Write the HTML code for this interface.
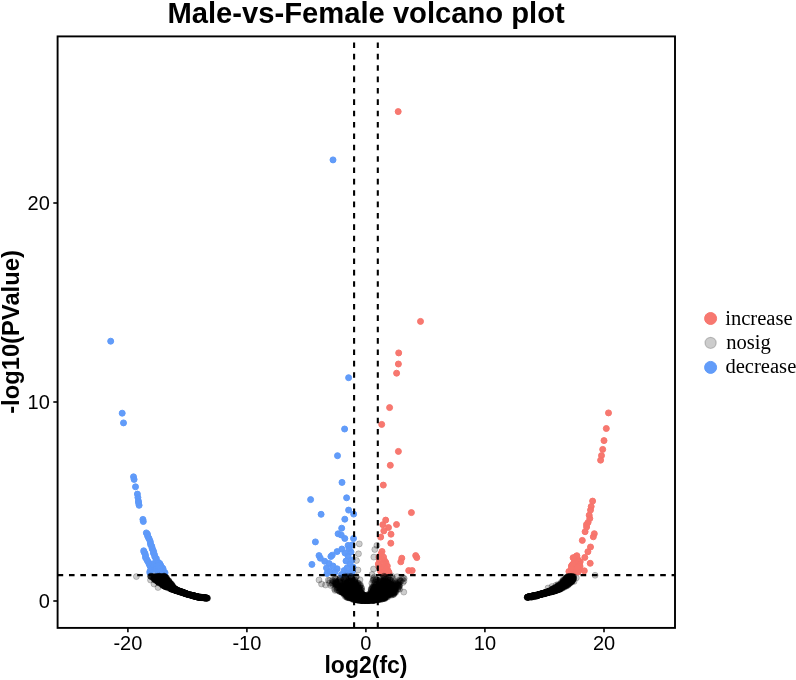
<!DOCTYPE html>
<html><head><meta charset="utf-8"><style>
html,body{margin:0;padding:0;background:#fff;}
svg{display:block;will-change:transform;}
.tk{font-family:"Liberation Sans",sans-serif;font-size:20px;fill:#000;}
.lg{font-family:"Liberation Serif",serif;font-size:20px;fill:#000;}
.ti{font-family:"Liberation Sans",sans-serif;font-weight:bold;font-size:29.2px;fill:#000;}
.ax{font-family:"Liberation Sans",sans-serif;font-weight:bold;font-size:23px;fill:#000;}
circle.n,circle.r,circle.b{r:3.0px;stroke-width:1.0px;}
circle.n{fill:#000;stroke:#000;fill-opacity:0.2;stroke-opacity:0.2;}
circle.r{fill:#F7746B;stroke:#F7746B;fill-opacity:0.97;stroke-opacity:0.97;}
circle.b{fill:#5D99F9;stroke:#5D99F9;fill-opacity:0.97;stroke-opacity:0.97;}
line.d{stroke:#000;stroke-width:2.1px;stroke-dasharray:5.6 5.77;}
line.t{stroke:#000;stroke-width:1.6px;}
</style></head><body>
<svg width="796" height="680" viewBox="0 0 796 680">
<rect width="796" height="680" fill="#fff"/>
<text x="366.1" y="22.7" text-anchor="middle" class="ti">Male-vs-Female volcano plot</text>
<g><circle class=r cx=398.2 cy=111.6 r=3 /><circle class=r cx=420.5 cy=321.4 r=3 /><circle class=r cx=398.7 cy=352.9 r=3 /><circle class=r cx=398.4 cy=364.0 r=3 /><circle class=r cx=396.6 cy=373.2 r=3 /><circle class=r cx=389.6 cy=407.6 r=3 /><circle class=r cx=381.7 cy=424.4 r=3 /><circle class=r cx=398.4 cy=451.4 r=3 /><circle class=r cx=390.3 cy=465.3 r=3 /><circle class=r cx=383.3 cy=485.1 r=3 /><circle class=r cx=411.4 cy=512.6 r=3 /><circle class=r cx=385.7 cy=520.1 r=3 /><circle class=r cx=396.5 cy=524.5 r=3 /><circle class=r cx=382.8 cy=524.7 r=3 /><circle class=r cx=388.5 cy=527.6 r=3 /><circle class=r cx=383.8 cy=530.9 r=3 /><circle class=r cx=391.0 cy=534.2 r=3 /><circle class=r cx=380.7 cy=537.1 r=3 /><circle class=r cx=390.8 cy=543.2 r=3 /><circle class=r cx=382.0 cy=551.5 r=3 /><circle class=r cx=415.7 cy=555.6 r=3 /><circle class=r cx=416.8 cy=557.6 r=3 /><circle class=r cx=401.8 cy=558.2 r=3 /><circle class=r cx=400.8 cy=561.8 r=3 /><circle class=r cx=383.5 cy=557.1 r=3 /><circle class=r cx=379.0 cy=557.1 r=3 /><circle class=r cx=384.5 cy=560.6 r=3 /><circle class=r cx=385.9 cy=562.6 r=3 /><circle class=r cx=378.3 cy=564.0 r=3 /><circle class=r cx=387.3 cy=566.1 r=3 /><circle class=r cx=382.4 cy=567.5 r=3 /><circle class=r cx=388.0 cy=570.6 r=3 /><circle class=r cx=380.4 cy=570.9 r=3 /><circle class=r cx=408.7 cy=570.6 r=3 /><circle class=r cx=412.2 cy=570.6 r=3 /><circle class=r cx=381.0 cy=554.0 r=3 /><circle class=r cx=379.5 cy=560.0 r=3 /><circle class=r cx=383.0 cy=564.0 r=3 /><circle class=r cx=386.0 cy=568.5 r=3 /><circle class=r cx=384.0 cy=571.5 r=3 /><circle class=r cx=379.0 cy=567.0 r=3 /><circle class=r cx=381.5 cy=573.0 r=3 /><circle class=r cx=386.5 cy=573.2 r=3 /><circle class=r cx=389.0 cy=572.5 r=3 /><circle class=r cx=608.5 cy=412.9 r=3 /><circle class=r cx=606.3 cy=428.5 r=3 /><circle class=r cx=604.0 cy=440.6 r=3 /><circle class=r cx=602.7 cy=449.4 r=3 /><circle class=r cx=601.5 cy=455.6 r=3 /><circle class=r cx=600.6 cy=460.2 r=3 /><circle class=r cx=592.6 cy=501.1 r=3 /><circle class=r cx=591.2 cy=506.5 r=3 /><circle class=r cx=590.5 cy=510.1 r=3 /><circle class=r cx=589.2 cy=515.2 r=3 /><circle class=r cx=588.1 cy=522.4 r=3 /><circle class=r cx=586.6 cy=527.0 r=3 /><circle class=r cx=585.1 cy=531.7 r=3 /><circle class=r cx=594.3 cy=533.7 r=3 /><circle class=r cx=593.3 cy=536.8 r=3 /><circle class=r cx=582.3 cy=540.4 r=3 /><circle class=r cx=590.5 cy=547.0 r=3 /><circle class=r cx=587.9 cy=551.7 r=3 /><circle class=r cx=584.8 cy=557.4 r=3 /><circle class=r cx=590.2 cy=563.3 r=3 /><circle class=r cx=584.3 cy=570.8 r=3 /><circle class=r cx=586.5 cy=524.5 r=3 /><circle class=r cx=589.8 cy=518.5 r=3 /><circle class=r cx=578.1 cy=560.5 r=3 /><circle class=r cx=578.2 cy=561.0 r=3 /><circle class=r cx=573.5 cy=572.3 r=3 /><circle class=r cx=571.1 cy=569.8 r=3 /><circle class=r cx=573.4 cy=564.0 r=3 /><circle class=r cx=571.4 cy=566.1 r=3 /><circle class=r cx=577.4 cy=558.8 r=3 /><circle class=r cx=577.8 cy=561.1 r=3 /><circle class=r cx=576.5 cy=567.5 r=3 /><circle class=r cx=575.8 cy=559.2 r=3 /><circle class=r cx=572.2 cy=565.0 r=3 /><circle class=r cx=578.1 cy=572.0 r=3 /><circle class=r cx=578.3 cy=560.8 r=3 /><circle class=r cx=580.2 cy=561.7 r=3 /><circle class=r cx=568.9 cy=571.5 r=3 /><circle class=r cx=579.1 cy=568.9 r=3 /><circle class=r cx=576.6 cy=569.7 r=3 /><circle class=r cx=574.5 cy=565.3 r=3 /><circle class=r cx=574.6 cy=562.6 r=3 /><circle class=r cx=577.7 cy=562.3 r=3 /><circle class=r cx=576.0 cy=564.0 r=3 /><circle class=r cx=576.2 cy=556.4 r=3 /><circle class=r cx=574.0 cy=558.1 r=3 /><circle class=r cx=579.6 cy=564.8 r=3 /><circle class=r cx=574.3 cy=562.1 r=3 /><circle class=r cx=572.9 cy=564.2 r=3 /><circle class=r cx=580.0 cy=566.2 r=3 /><circle class=r cx=574.6 cy=571.5 r=3 /><circle class=r cx=573.7 cy=568.9 r=3 /><circle class=r cx=576.9 cy=555.7 r=3 /><circle class=r cx=578.6 cy=570.2 r=3 /><circle class=r cx=577.3 cy=567.5 r=3 /><circle class=r cx=573.1 cy=557.7 r=3 /><circle class=r cx=571.5 cy=568.4 r=3 /><circle class=b cx=333.0 cy=159.9 r=3 /><circle class=b cx=110.7 cy=341.2 r=3 /><circle class=b cx=122.2 cy=413.2 r=3 /><circle class=b cx=123.5 cy=422.9 r=3 /><circle class=b cx=348.6 cy=377.7 r=3 /><circle class=b cx=344.6 cy=429.0 r=3 /><circle class=b cx=337.5 cy=455.7 r=3 /><circle class=b cx=342.0 cy=482.4 r=3 /><circle class=b cx=346.6 cy=497.8 r=3 /><circle class=b cx=310.6 cy=499.6 r=3 /><circle class=b cx=348.6 cy=510.1 r=3 /><circle class=b cx=353.7 cy=514.1 r=3 /><circle class=b cx=321.1 cy=514.3 r=3 /><circle class=b cx=344.8 cy=519.2 r=3 /><circle class=b cx=341.7 cy=528.2 r=3 /><circle class=b cx=338.1 cy=533.8 r=3 /><circle class=b cx=341.2 cy=534.9 r=3 /><circle class=b cx=344.8 cy=538.5 r=3 /><circle class=b cx=353.5 cy=538.5 r=3 /><circle class=b cx=315.4 cy=541.9 r=3 /><circle class=b cx=348.1 cy=545.4 r=3 /><circle class=b cx=341.9 cy=549.0 r=3 /><circle class=b cx=337.1 cy=551.6 r=3 /><circle class=b cx=332.2 cy=555.2 r=3 /><circle class=b cx=330.9 cy=556.5 r=3 /><circle class=b cx=319.0 cy=555.6 r=3 /><circle class=b cx=320.3 cy=558.2 r=3 /><circle class=b cx=324.7 cy=561.3 r=3 /><circle class=b cx=311.9 cy=564.4 r=3 /><circle class=b cx=329.1 cy=563.5 r=3 /><circle class=b cx=326.5 cy=568.0 r=3 /><circle class=b cx=330.0 cy=571.5 r=3 /><circle class=b cx=337.1 cy=568.8 r=3 /><circle class=b cx=344.1 cy=570.6 r=3 /><circle class=b cx=351.2 cy=573.2 r=3 /><circle class=b cx=341.5 cy=574.5 r=3 /><circle class=b cx=345.0 cy=553.0 r=3 /><circle class=b cx=348.0 cy=556.0 r=3 /><circle class=b cx=351.0 cy=552.0 r=3 /><circle class=b cx=346.0 cy=561.0 r=3 /><circle class=b cx=350.0 cy=564.0 r=3 /><circle class=b cx=352.0 cy=560.0 r=3 /><circle class=b cx=353.0 cy=567.0 r=3 /><circle class=b cx=347.0 cy=568.0 r=3 /><circle class=b cx=335.0 cy=572.0 r=3 /><circle class=b cx=327.0 cy=573.5 r=3 /><circle class=b cx=333.0 cy=566.0 r=3 /><circle class=b cx=349.0 cy=548.5 r=3 /><circle class=b cx=352.0 cy=545.0 r=3 /><circle class=b cx=347.0 cy=573.5 r=3 /><circle class=b cx=352.5 cy=571.0 r=3 /><circle class=b cx=133.5 cy=476.8 r=3 /><circle class=b cx=134.1 cy=479.4 r=3 /><circle class=b cx=135.5 cy=486.8 r=3 /><circle class=b cx=137.4 cy=494.1 r=3 /><circle class=b cx=137.9 cy=497.5 r=3 /><circle class=b cx=138.4 cy=501.0 r=3 /><circle class=b cx=139.1 cy=505.3 r=3 /><circle class=b cx=138.6 cy=503.0 r=3 /><circle class=b cx=142.9 cy=519.4 r=3 /><circle class=b cx=143.3 cy=521.5 r=3 /><circle class=b cx=146.3 cy=532.9 r=3 /><circle class=b cx=147.4 cy=534.0 r=3 /><circle class=b cx=147.5 cy=535.7 r=3 /><circle class=b cx=148.4 cy=537.6 r=3 /><circle class=b cx=149.1 cy=538.7 r=3 /><circle class=b cx=150.1 cy=541.1 r=3 /><circle class=b cx=150.4 cy=542.8 r=3 /><circle class=b cx=150.7 cy=544.8 r=3 /><circle class=b cx=151.8 cy=546.3 r=3 /><circle class=b cx=152.1 cy=548.4 r=3 /><circle class=b cx=152.5 cy=549.3 r=3 /><circle class=b cx=153.6 cy=551.4 r=3 /><circle class=b cx=153.4 cy=553.1 r=3 /><circle class=b cx=154.5 cy=554.7 r=3 /><circle class=b cx=154.8 cy=556.9 r=3 /><circle class=b cx=156.3 cy=558.5 r=3 /><circle class=b cx=158.6 cy=562.6 r=3 /><circle class=b cx=159.9 cy=563.7 r=3 /><circle class=b cx=160.6 cy=565.5 r=3 /><circle class=b cx=161.0 cy=566.2 r=3 /><circle class=b cx=162.0 cy=567.8 r=3 /><circle class=b cx=163.0 cy=568.6 r=3 /><circle class=b cx=163.1 cy=570.1 r=3 /><circle class=b cx=163.5 cy=571.7 r=3 /><circle class=b cx=165.0 cy=572.7 r=3 /><circle class=b cx=143.7 cy=550.8 r=3 /><circle class=b cx=144.1 cy=552.3 r=3 /><circle class=b cx=145.0 cy=553.5 r=3 /><circle class=b cx=145.6 cy=555.8 r=3 /><circle class=b cx=145.5 cy=557.5 r=3 /><circle class=b cx=146.7 cy=559.3 r=3 /><circle class=b cx=147.4 cy=560.7 r=3 /><circle class=b cx=148.4 cy=562.2 r=3 /><circle class=b cx=149.2 cy=564.1 r=3 /><circle class=b cx=149.9 cy=565.7 r=3 /><circle class=b cx=150.9 cy=567.8 r=3 /><circle class=b cx=151.1 cy=569.5 r=3 /><circle class=b cx=151.6 cy=569.9 r=3 /><circle class=b cx=149.9 cy=571.4 r=3 /><circle class=b cx=149.9 cy=572.9 r=3 /><circle class=b cx=153.2 cy=563.8 r=3 /><circle class=b cx=154.1 cy=565.6 r=3 /><circle class=b cx=156.0 cy=566.9 r=3 /><circle class=b cx=156.4 cy=569.0 r=3 /><circle class=b cx=157.6 cy=572.0 r=3 /><circle class=b cx=159.2 cy=572.9 r=3 /><circle class=b cx=156.3 cy=560.7 r=3 /><circle class=b cx=158.0 cy=563.2 r=3 /><circle class=b cx=158.0 cy=565.8 r=3 /><circle class=b cx=159.2 cy=568.2 r=3 /><circle class=b cx=159.8 cy=571.0 r=3 /><circle class=b cx=161.1 cy=573.5 r=3 /><circle class=n cx=167.6 cy=584.2 r=3 /><circle class=n cx=160.8 cy=581.9 r=3 /><circle class=n cx=165.3 cy=580.9 r=3 /><circle class=n cx=166.2 cy=583.9 r=3 /><circle class=n cx=157.3 cy=577.9 r=3 /><circle class=n cx=161.8 cy=583.4 r=3 /><circle class=n cx=154.5 cy=577.5 r=3 /><circle class=n cx=165.6 cy=579.5 r=3 /><circle class=n cx=167.1 cy=582.4 r=3 /><circle class=n cx=177.4 cy=590.7 r=3 /><circle class=n cx=157.4 cy=581.1 r=3 /><circle class=n cx=164.0 cy=581.9 r=3 /><circle class=n cx=159.5 cy=579.4 r=3 /><circle class=n cx=160.6 cy=579.5 r=3 /><circle class=n cx=178.2 cy=591.5 r=3 /><circle class=n cx=154.4 cy=578.7 r=3 /><circle class=n cx=165.7 cy=585.0 r=3 /><circle class=n cx=169.6 cy=583.1 r=3 /><circle class=n cx=161.2 cy=580.9 r=3 /><circle class=n cx=164.1 cy=577.7 r=3 /><circle class=n cx=154.7 cy=576.7 r=3 /><circle class=n cx=151.3 cy=576.2 r=3 /><circle class=n cx=162.2 cy=581.3 r=3 /><circle class=n cx=176.2 cy=589.7 r=3 /><circle class=n cx=167.7 cy=586.6 r=3 /><circle class=n cx=166.3 cy=584.7 r=3 /><circle class=n cx=163.1 cy=584.3 r=3 /><circle class=n cx=155.3 cy=579.1 r=3 /><circle class=n cx=172.0 cy=584.8 r=3 /><circle class=n cx=158.8 cy=581.9 r=3 /><circle class=n cx=166.7 cy=584.6 r=3 /><circle class=n cx=179.9 cy=591.2 r=3 /><circle class=n cx=169.3 cy=583.2 r=3 /><circle class=n cx=155.6 cy=579.3 r=3 /><circle class=n cx=162.4 cy=581.0 r=3 /><circle class=n cx=159.2 cy=580.6 r=3 /><circle class=n cx=162.5 cy=581.8 r=3 /><circle class=n cx=162.9 cy=581.3 r=3 /><circle class=n cx=172.6 cy=588.5 r=3 /><circle class=n cx=171.7 cy=586.8 r=3 /><circle class=n cx=155.5 cy=578.1 r=3 /><circle class=n cx=155.4 cy=579.5 r=3 /><circle class=n cx=165.2 cy=585.8 r=3 /><circle class=n cx=168.9 cy=586.6 r=3 /><circle class=n cx=176.0 cy=590.5 r=3 /><circle class=n cx=166.2 cy=579.7 r=3 /><circle class=n cx=161.3 cy=578.1 r=3 /><circle class=n cx=158.3 cy=582.2 r=3 /><circle class=n cx=155.1 cy=579.0 r=3 /><circle class=n cx=165.4 cy=586.0 r=3 /><circle class=n cx=168.5 cy=586.4 r=3 /><circle class=n cx=155.8 cy=578.7 r=3 /><circle class=n cx=167.9 cy=584.6 r=3 /><circle class=n cx=162.9 cy=581.4 r=3 /><circle class=n cx=171.1 cy=585.4 r=3 /><circle class=n cx=161.4 cy=582.2 r=3 /><circle class=n cx=165.2 cy=580.5 r=3 /><circle class=n cx=167.8 cy=584.7 r=3 /><circle class=n cx=169.6 cy=587.5 r=3 /><circle class=n cx=167.6 cy=586.1 r=3 /><circle class=n cx=165.8 cy=580.9 r=3 /><circle class=n cx=159.8 cy=579.1 r=3 /><circle class=n cx=161.1 cy=581.4 r=3 /><circle class=n cx=168.8 cy=581.0 r=3 /><circle class=n cx=176.5 cy=590.1 r=3 /><circle class=n cx=164.2 cy=578.6 r=3 /><circle class=n cx=169.6 cy=585.4 r=3 /><circle class=n cx=160.8 cy=576.6 r=3 /><circle class=n cx=166.4 cy=578.1 r=3 /><circle class=n cx=174.6 cy=589.1 r=3 /><circle class=n cx=159.5 cy=580.2 r=3 /><circle class=n cx=163.4 cy=576.4 r=3 /><circle class=n cx=160.9 cy=582.2 r=3 /><circle class=n cx=166.3 cy=579.4 r=3 /><circle class=n cx=155.0 cy=576.2 r=3 /><circle class=n cx=169.9 cy=586.9 r=3 /><circle class=n cx=167.9 cy=585.8 r=3 /><circle class=n cx=162.1 cy=583.6 r=3 /><circle class=n cx=168.7 cy=580.6 r=3 /><circle class=n cx=182.3 cy=592.7 r=3 /><circle class=n cx=172.7 cy=588.3 r=3 /><circle class=n cx=155.8 cy=578.0 r=3 /><circle class=n cx=161.2 cy=577.2 r=3 /><circle class=n cx=154.9 cy=578.0 r=3 /><circle class=n cx=160.2 cy=577.5 r=3 /><circle class=n cx=167.1 cy=584.1 r=3 /><circle class=n cx=167.7 cy=581.5 r=3 /><circle class=n cx=169.7 cy=582.6 r=3 /><circle class=n cx=177.3 cy=591.1 r=3 /><circle class=n cx=168.7 cy=581.5 r=3 /><circle class=n cx=168.7 cy=588.3 r=3 /><circle class=n cx=159.3 cy=580.9 r=3 /><circle class=n cx=166.1 cy=577.2 r=3 /><circle class=n cx=157.9 cy=576.5 r=3 /><circle class=n cx=182.2 cy=592.5 r=3 /><circle class=n cx=154.3 cy=579.5 r=3 /><circle class=n cx=168.2 cy=585.2 r=3 /><circle class=n cx=165.5 cy=578.0 r=3 /><circle class=n cx=155.7 cy=577.4 r=3 /><circle class=n cx=163.8 cy=580.7 r=3 /><circle class=n cx=162.6 cy=583.5 r=3 /><circle class=n cx=157.1 cy=579.2 r=3 /><circle class=n cx=164.6 cy=576.4 r=3 /><circle class=n cx=169.1 cy=587.5 r=3 /><circle class=n cx=165.9 cy=586.9 r=3 /><circle class=n cx=164.2 cy=586.1 r=3 /><circle class=n cx=168.3 cy=582.9 r=3 /><circle class=n cx=171.6 cy=589.3 r=3 /><circle class=n cx=158.0 cy=581.8 r=3 /><circle class=n cx=158.4 cy=578.3 r=3 /><circle class=n cx=160.7 cy=578.2 r=3 /><circle class=n cx=179.5 cy=591.1 r=3 /><circle class=n cx=185.4 cy=593.5 r=3 /><circle class=n cx=167.1 cy=579.8 r=3 /><circle class=n cx=162.3 cy=581.3 r=3 /><circle class=n cx=153.7 cy=578.7 r=3 /><circle class=n cx=153.5 cy=578.5 r=3 /><circle class=n cx=163.7 cy=582.8 r=3 /><circle class=n cx=171.4 cy=584.2 r=3 /><circle class=n cx=166.6 cy=582.3 r=3 /><circle class=n cx=165.7 cy=584.1 r=3 /><circle class=n cx=163.6 cy=585.7 r=3 /><circle class=n cx=159.6 cy=577.9 r=3 /><circle class=n cx=165.8 cy=586.5 r=3 /><circle class=n cx=162.6 cy=582.6 r=3 /><circle class=n cx=161.7 cy=582.4 r=3 /><circle class=n cx=174.7 cy=588.5 r=3 /><circle class=n cx=156.1 cy=576.9 r=3 /><circle class=n cx=170.2 cy=585.0 r=3 /><circle class=n cx=156.5 cy=576.9 r=3 /><circle class=n cx=168.6 cy=586.8 r=3 /><circle class=n cx=172.9 cy=586.2 r=3 /><circle class=n cx=172.7 cy=586.0 r=3 /><circle class=n cx=158.7 cy=578.0 r=3 /><circle class=n cx=173.5 cy=588.2 r=3 /><circle class=n cx=158.0 cy=581.3 r=3 /><circle class=n cx=162.9 cy=585.5 r=3 /><circle class=n cx=154.8 cy=580.0 r=3 /><circle class=n cx=164.1 cy=578.0 r=3 /><circle class=n cx=157.1 cy=578.8 r=3 /><circle class=n cx=158.8 cy=582.8 r=3 /><circle class=n cx=154.2 cy=577.9 r=3 /><circle class=n cx=185.3 cy=593.4 r=3 /><circle class=n cx=165.4 cy=578.3 r=3 /><circle class=n cx=162.4 cy=579.1 r=3 /><circle class=n cx=178.6 cy=591.2 r=3 /><circle class=n cx=155.4 cy=578.1 r=3 /><circle class=n cx=171.2 cy=589.1 r=3 /><circle class=n cx=158.2 cy=578.4 r=3 /><circle class=n cx=179.3 cy=591.9 r=3 /><circle class=n cx=159.2 cy=583.0 r=3 /><circle class=n cx=165.8 cy=586.6 r=3 /><circle class=n cx=166.1 cy=579.2 r=3 /><circle class=n cx=164.9 cy=583.0 r=3 /><circle class=n cx=154.5 cy=577.5 r=3 /><circle class=n cx=165.1 cy=586.4 r=3 /><circle class=n cx=159.9 cy=582.3 r=3 /><circle class=n cx=164.4 cy=576.2 r=3 /><circle class=n cx=152.5 cy=576.8 r=3 /><circle class=n cx=170.9 cy=589.0 r=3 /><circle class=n cx=173.1 cy=588.1 r=3 /><circle class=n cx=162.8 cy=583.9 r=3 /><circle class=n cx=164.2 cy=585.5 r=3 /><circle class=n cx=159.3 cy=580.7 r=3 /><circle class=n cx=177.2 cy=590.0 r=3 /><circle class=n cx=170.7 cy=583.8 r=3 /><circle class=n cx=167.2 cy=586.5 r=3 /><circle class=n cx=168.4 cy=582.2 r=3 /><circle class=n cx=166.2 cy=584.6 r=3 /><circle class=n cx=157.9 cy=578.2 r=3 /><circle class=n cx=155.4 cy=579.4 r=3 /><circle class=n cx=164.7 cy=579.0 r=3 /><circle class=n cx=157.9 cy=581.2 r=3 /><circle class=n cx=165.6 cy=580.5 r=3 /><circle class=n cx=167.2 cy=581.9 r=3 /><circle class=n cx=167.2 cy=587.5 r=3 /><circle class=n cx=165.1 cy=580.3 r=3 /><circle class=n cx=163.4 cy=576.2 r=3 /><circle class=n cx=167.0 cy=580.5 r=3 /><circle class=n cx=165.6 cy=577.7 r=3 /><circle class=n cx=177.0 cy=590.7 r=3 /><circle class=n cx=167.0 cy=585.4 r=3 /><circle class=n cx=168.0 cy=587.4 r=3 /><circle class=n cx=162.4 cy=584.3 r=3 /><circle class=n cx=167.0 cy=585.8 r=3 /><circle class=n cx=161.4 cy=584.0 r=3 /><circle class=n cx=164.9 cy=585.7 r=3 /><circle class=n cx=168.8 cy=586.5 r=3 /><circle class=n cx=168.1 cy=584.3 r=3 /><circle class=n cx=184.9 cy=593.2 r=3 /><circle class=n cx=162.6 cy=585.2 r=3 /><circle class=n cx=162.5 cy=579.1 r=3 /><circle class=n cx=163.8 cy=581.3 r=3 /><circle class=n cx=166.1 cy=585.8 r=3 /><circle class=n cx=171.4 cy=585.7 r=3 /><circle class=n cx=164.5 cy=583.1 r=3 /><circle class=n cx=174.8 cy=588.3 r=3 /><circle class=n cx=170.2 cy=587.1 r=3 /><circle class=n cx=155.8 cy=580.5 r=3 /><circle class=n cx=171.9 cy=587.5 r=3 /><circle class=n cx=170.5 cy=588.4 r=3 /><circle class=n cx=151.3 cy=576.3 r=3 /><circle class=n cx=165.2 cy=578.0 r=3 /><circle class=n cx=165.2 cy=586.7 r=3 /><circle class=n cx=173.3 cy=587.5 r=3 /><circle class=n cx=156.0 cy=578.6 r=3 /><circle class=n cx=150.6 cy=576.4 r=3 /><circle class=n cx=163.0 cy=584.4 r=3 /><circle class=n cx=173.1 cy=587.3 r=3 /><circle class=n cx=169.4 cy=586.2 r=3 /><circle class=n cx=163.7 cy=581.9 r=3 /><circle class=n cx=161.5 cy=584.4 r=3 /><circle class=n cx=166.6 cy=580.5 r=3 /><circle class=n cx=163.9 cy=581.2 r=3 /><circle class=n cx=171.6 cy=586.9 r=3 /><circle class=n cx=159.5 cy=579.7 r=3 /><circle class=n cx=160.0 cy=580.5 r=3 /><circle class=n cx=166.6 cy=583.2 r=3 /><circle class=n cx=170.3 cy=585.9 r=3 /><circle class=n cx=165.2 cy=585.6 r=3 /><circle class=n cx=160.3 cy=581.9 r=3 /><circle class=n cx=171.5 cy=588.0 r=3 /><circle class=n cx=175.3 cy=589.3 r=3 /><circle class=n cx=166.8 cy=579.4 r=3 /><circle class=n cx=165.3 cy=579.7 r=3 /><circle class=n cx=166.3 cy=581.6 r=3 /><circle class=n cx=163.6 cy=584.0 r=3 /><circle class=n cx=162.4 cy=584.2 r=3 /><circle class=n cx=174.9 cy=590.1 r=3 /><circle class=n cx=160.3 cy=580.1 r=3 /><circle class=n cx=169.4 cy=586.8 r=3 /><circle class=n cx=172.0 cy=586.0 r=3 /><circle class=n cx=165.3 cy=577.6 r=3 /><circle class=n cx=173.1 cy=589.7 r=3 /><circle class=n cx=158.5 cy=582.2 r=3 /><circle class=n cx=162.8 cy=584.6 r=3 /><circle class=n cx=159.9 cy=581.5 r=3 /><circle class=n cx=155.7 cy=577.7 r=3 /><circle class=n cx=172.4 cy=588.2 r=3 /><circle class=n cx=152.8 cy=577.2 r=3 /><circle class=n cx=158.4 cy=582.4 r=3 /><circle class=n cx=160.3 cy=581.3 r=3 /><circle class=n cx=171.6 cy=588.4 r=3 /><circle class=n cx=162.6 cy=581.7 r=3 /><circle class=n cx=169.5 cy=584.3 r=3 /><circle class=n cx=159.4 cy=576.4 r=3 /><circle class=n cx=166.7 cy=578.0 r=3 /><circle class=n cx=164.6 cy=576.4 r=3 /><circle class=n cx=161.5 cy=582.4 r=3 /><circle class=n cx=171.7 cy=585.4 r=3 /><circle class=n cx=167.1 cy=580.3 r=3 /><circle class=n cx=171.4 cy=587.4 r=3 /><circle class=n cx=164.0 cy=580.3 r=3 /><circle class=n cx=188.4 cy=594.3 r=3 /><circle class=n cx=161.7 cy=579.4 r=3 /><circle class=n cx=163.1 cy=577.0 r=3 /><circle class=n cx=166.6 cy=584.6 r=3 /><circle class=n cx=169.6 cy=582.8 r=3 /><circle class=n cx=158.1 cy=579.9 r=3 /><circle class=n cx=159.3 cy=576.2 r=3 /><circle class=n cx=170.5 cy=586.6 r=3 /><circle class=n cx=163.1 cy=585.5 r=3 /><circle class=n cx=166.4 cy=586.5 r=3 /><circle class=n cx=168.9 cy=583.3 r=3 /><circle class=n cx=163.1 cy=579.1 r=3 /><circle class=n cx=167.5 cy=580.3 r=3 /><circle class=n cx=168.1 cy=587.0 r=3 /><circle class=n cx=163.1 cy=582.3 r=3 /><circle class=n cx=175.7 cy=590.7 r=3 /><circle class=n cx=163.8 cy=581.4 r=3 /><circle class=n cx=157.9 cy=578.5 r=3 /><circle class=n cx=162.1 cy=580.4 r=3 /><circle class=n cx=164.1 cy=577.9 r=3 /><circle class=n cx=164.4 cy=579.9 r=3 /><circle class=n cx=165.4 cy=585.9 r=3 /><circle class=n cx=165.8 cy=584.2 r=3 /><circle class=n cx=158.9 cy=576.9 r=3 /><circle class=n cx=165.2 cy=581.1 r=3 /><circle class=n cx=164.3 cy=585.5 r=3 /><circle class=n cx=171.1 cy=584.1 r=3 /><circle class=n cx=161.7 cy=579.9 r=3 /><circle class=n cx=168.5 cy=582.7 r=3 /><circle class=n cx=167.7 cy=586.6 r=3 /><circle class=n cx=165.4 cy=582.1 r=3 /><circle class=n cx=171.7 cy=586.0 r=3 /><circle class=n cx=155.2 cy=578.8 r=3 /><circle class=n cx=168.7 cy=584.5 r=3 /><circle class=n cx=170.4 cy=584.9 r=3 /><circle class=n cx=150.4 cy=576.2 r=3 /><circle class=n cx=161.6 cy=579.4 r=3 /><circle class=n cx=172.5 cy=589.0 r=3 /><circle class=n cx=170.0 cy=587.4 r=3 /><circle class=n cx=154.2 cy=576.9 r=3 /><circle class=n cx=161.1 cy=576.5 r=3 /><circle class=n cx=172.3 cy=587.4 r=3 /><circle class=n cx=162.3 cy=580.5 r=3 /><circle class=n cx=163.7 cy=583.5 r=3 /><circle class=n cx=164.2 cy=578.9 r=3 /><circle class=n cx=158.5 cy=576.5 r=3 /><circle class=n cx=175.0 cy=590.4 r=3 /><circle class=n cx=161.9 cy=579.8 r=3 /><circle class=n cx=162.8 cy=578.4 r=3 /><circle class=n cx=175.9 cy=589.6 r=3 /><circle class=n cx=159.2 cy=576.2 r=3 /><circle class=n cx=164.0 cy=576.4 r=3 /><circle class=n cx=160.5 cy=579.4 r=3 /><circle class=n cx=165.1 cy=586.3 r=3 /><circle class=n cx=156.2 cy=576.9 r=3 /><circle class=n cx=163.3 cy=581.1 r=3 /><circle class=n cx=162.2 cy=582.5 r=3 /><circle class=n cx=162.0 cy=583.9 r=3 /><circle class=n cx=164.8 cy=577.2 r=3 /><circle class=n cx=160.3 cy=582.7 r=3 /><circle class=n cx=167.7 cy=585.6 r=3 /><circle class=n cx=170.7 cy=583.5 r=3 /><circle class=n cx=161.2 cy=576.8 r=3 /><circle class=n cx=164.8 cy=580.1 r=3 /><circle class=n cx=162.2 cy=578.6 r=3 /><circle class=n cx=162.5 cy=580.5 r=3 /><circle class=n cx=169.7 cy=583.0 r=3 /><circle class=n cx=159.0 cy=579.6 r=3 /><circle class=n cx=166.6 cy=582.7 r=3 /><circle class=n cx=169.7 cy=587.7 r=3 /><circle class=n cx=168.9 cy=581.3 r=3 /><circle class=n cx=160.3 cy=581.7 r=3 /><circle class=n cx=156.5 cy=580.1 r=3 /><circle class=n cx=164.5 cy=578.5 r=3 /><circle class=n cx=157.1 cy=580.8 r=3 /><circle class=n cx=171.9 cy=589.0 r=3 /><circle class=n cx=155.9 cy=580.4 r=3 /><circle class=n cx=165.9 cy=586.0 r=3 /><circle class=n cx=168.8 cy=586.8 r=3 /><circle class=n cx=161.3 cy=580.2 r=3 /><circle class=n cx=167.2 cy=584.5 r=3 /><circle class=n cx=163.5 cy=579.5 r=3 /><circle class=n cx=153.2 cy=576.6 r=3 /><circle class=n cx=177.5 cy=591.2 r=3 /><circle class=n cx=159.9 cy=578.3 r=3 /><circle class=n cx=158.6 cy=580.9 r=3 /><circle class=n cx=162.1 cy=579.0 r=3 /><circle class=n cx=173.4 cy=589.7 r=3 /><circle class=n cx=151.3 cy=576.8 r=3 /><circle class=n cx=157.7 cy=576.2 r=3 /><circle class=n cx=158.1 cy=578.9 r=3 /><circle class=n cx=165.5 cy=586.7 r=3 /><circle class=n cx=165.4 cy=577.8 r=3 /><circle class=n cx=166.2 cy=582.2 r=3 /><circle class=n cx=164.2 cy=582.8 r=3 /><circle class=n cx=164.5 cy=580.2 r=3 /><circle class=n cx=166.5 cy=585.8 r=3 /><circle class=n cx=172.4 cy=588.0 r=3 /><circle class=n cx=197.6 cy=596.7 r=3 /><circle class=n cx=201.5 cy=597.5 r=3 /><circle class=n cx=185.3 cy=593.2 r=3 /><circle class=n cx=202.2 cy=597.6 r=3 /><circle class=n cx=203.1 cy=597.7 r=3 /><circle class=n cx=185.6 cy=593.4 r=3 /><circle class=n cx=197.6 cy=596.8 r=3 /><circle class=n cx=193.4 cy=595.8 r=3 /><circle class=n cx=191.6 cy=595.1 r=3 /><circle class=n cx=191.6 cy=595.3 r=3 /><circle class=n cx=175.7 cy=590.1 r=3 /><circle class=n cx=202.1 cy=597.6 r=3 /><circle class=n cx=194.6 cy=596.1 r=3 /><circle class=n cx=173.8 cy=588.5 r=3 /><circle class=n cx=189.7 cy=594.7 r=3 /><circle class=n cx=178.1 cy=590.5 r=3 /><circle class=n cx=186.9 cy=593.9 r=3 /><circle class=n cx=198.6 cy=597.3 r=3 /><circle class=n cx=171.3 cy=589.0 r=3 /><circle class=n cx=197.7 cy=596.9 r=3 /><circle class=n cx=184.9 cy=593.5 r=3 /><circle class=n cx=173.3 cy=589.6 r=3 /><circle class=n cx=173.9 cy=588.6 r=3 /><circle class=n cx=206.7 cy=598.0 r=3 /><circle class=n cx=185.3 cy=593.6 r=3 /><circle class=n cx=180.0 cy=591.3 r=3 /><circle class=n cx=198.6 cy=597.0 r=3 /><circle class=n cx=170.2 cy=587.5 r=3 /><circle class=n cx=206.1 cy=598.0 r=3 /><circle class=n cx=190.4 cy=594.9 r=3 /><circle class=n cx=172.9 cy=587.9 r=3 /><circle class=n cx=191.1 cy=595.2 r=3 /><circle class=n cx=201.9 cy=597.5 r=3 /><circle class=n cx=189.8 cy=594.8 r=3 /><circle class=n cx=171.5 cy=588.1 r=3 /><circle class=n cx=183.5 cy=592.7 r=3 /><circle class=n cx=175.3 cy=590.2 r=3 /><circle class=n cx=170.6 cy=587.0 r=3 /><circle class=n cx=196.3 cy=596.4 r=3 /><circle class=n cx=196.1 cy=596.7 r=3 /><circle class=n cx=173.8 cy=588.7 r=3 /><circle class=n cx=184.9 cy=593.2 r=3 /><circle class=n cx=196.7 cy=596.6 r=3 /><circle class=n cx=177.0 cy=590.6 r=3 /><circle class=n cx=189.9 cy=595.0 r=3 /><circle class=n cx=174.8 cy=590.0 r=3 /><circle class=n cx=173.0 cy=588.2 r=3 /><circle class=n cx=197.0 cy=596.9 r=3 /><circle class=n cx=181.8 cy=591.8 r=3 /><circle class=n cx=194.5 cy=596.3 r=3 /><circle class=n cx=193.3 cy=595.9 r=3 /><circle class=n cx=201.7 cy=597.6 r=3 /><circle class=n cx=174.0 cy=588.9 r=3 /><circle class=n cx=187.8 cy=594.3 r=3 /><circle class=n cx=172.1 cy=588.0 r=3 /><circle class=n cx=199.7 cy=597.1 r=3 /><circle class=n cx=187.2 cy=594.3 r=3 /><circle class=n cx=195.8 cy=596.4 r=3 /><circle class=n cx=203.1 cy=597.7 r=3 /><circle class=n cx=194.6 cy=596.0 r=3 /><circle class=n cx=176.2 cy=589.4 r=3 /><circle class=n cx=182.2 cy=592.0 r=3 /><circle class=n cx=200.2 cy=597.4 r=3 /><circle class=n cx=182.5 cy=592.5 r=3 /><circle class=n cx=192.7 cy=595.8 r=3 /><circle class=n cx=187.2 cy=594.0 r=3 /><circle class=n cx=195.1 cy=596.2 r=3 /><circle class=n cx=199.6 cy=597.3 r=3 /><circle class=n cx=194.3 cy=596.0 r=3 /><circle class=n cx=202.4 cy=597.6 r=3 /><circle class=n cx=176.9 cy=590.7 r=3 /><circle class=n cx=200.4 cy=597.2 r=3 /><circle class=n cx=177.3 cy=590.1 r=3 /><circle class=n cx=192.7 cy=595.8 r=3 /><circle class=n cx=201.9 cy=597.5 r=3 /><circle class=n cx=195.6 cy=596.5 r=3 /><circle class=n cx=171.4 cy=589.0 r=3 /><circle class=n cx=201.3 cy=597.3 r=3 /><circle class=n cx=182.2 cy=592.1 r=3 /><circle class=n cx=174.4 cy=590.0 r=3 /><circle class=n cx=206.5 cy=598.0 r=3 /><circle class=n cx=183.7 cy=593.1 r=3 /><circle class=n cx=174.9 cy=589.7 r=3 /><circle class=n cx=201.8 cy=597.5 r=3 /><circle class=n cx=194.2 cy=595.8 r=3 /><circle class=n cx=174.2 cy=588.5 r=3 /><circle class=n cx=170.8 cy=588.3 r=3 /><circle class=n cx=204.7 cy=597.9 r=3 /><circle class=n cx=206.2 cy=598.0 r=3 /><circle class=n cx=204.3 cy=597.8 r=3 /><circle class=n cx=200.7 cy=597.5 r=3 /><circle class=n cx=172.2 cy=587.7 r=3 /><circle class=n cx=204.6 cy=597.8 r=3 /><circle class=n cx=181.4 cy=592.3 r=3 /><circle class=n cx=184.2 cy=592.8 r=3 /><circle class=n cx=176.8 cy=590.1 r=3 /><circle class=n cx=180.1 cy=591.7 r=3 /><circle class=n cx=170.8 cy=588.6 r=3 /><circle class=n cx=205.7 cy=598.0 r=3 /><circle class=n cx=172.8 cy=587.8 r=3 /><circle class=n cx=207.5 cy=598.2 r=3 /><circle class=n cx=172.2 cy=587.8 r=3 /><circle class=n cx=179.0 cy=590.7 r=3 /><circle class=n cx=173.2 cy=588.6 r=3 /><circle class=n cx=205.8 cy=597.9 r=3 /><circle class=n cx=175.1 cy=589.9 r=3 /><circle class=n cx=197.1 cy=596.8 r=3 /><circle class=n cx=198.9 cy=597.0 r=3 /><circle class=n cx=196.8 cy=596.7 r=3 /><circle class=n cx=177.0 cy=590.2 r=3 /><circle class=n cx=200.8 cy=597.3 r=3 /><circle class=n cx=180.6 cy=591.9 r=3 /><circle class=n cx=202.9 cy=597.5 r=3 /><circle class=n cx=172.4 cy=587.6 r=3 /><circle class=n cx=172.5 cy=587.6 r=3 /><circle class=n cx=173.7 cy=588.8 r=3 /><circle class=n cx=177.0 cy=590.3 r=3 /><circle class=n cx=204.7 cy=597.9 r=3 /><circle class=n cx=179.9 cy=591.9 r=3 /><circle class=n cx=170.6 cy=587.0 r=3 /><circle class=n cx=190.7 cy=595.2 r=3 /><circle class=n cx=189.3 cy=594.6 r=3 /><circle class=n cx=178.3 cy=591.1 r=3 /><circle class=n cx=196.7 cy=596.9 r=3 /><circle class=n cx=185.4 cy=593.6 r=3 /><circle class=n cx=169.9 cy=587.9 r=3 /><circle class=n cx=183.1 cy=592.7 r=3 /><circle class=n cx=184.2 cy=592.7 r=3 /><circle class=n cx=180.0 cy=591.3 r=3 /><circle class=n cx=176.1 cy=589.9 r=3 /><circle class=n cx=187.4 cy=594.2 r=3 /><circle class=n cx=203.3 cy=597.7 r=3 /><circle class=n cx=177.0 cy=590.6 r=3 /><circle class=n cx=203.7 cy=597.7 r=3 /><circle class=n cx=173.1 cy=588.4 r=3 /><circle class=n cx=192.9 cy=595.8 r=3 /><circle class=n cx=174.5 cy=588.7 r=3 /><circle class=n cx=193.4 cy=595.6 r=3 /><circle class=n cx=180.7 cy=591.7 r=3 /><circle class=n cx=196.1 cy=596.5 r=3 /><circle class=n cx=201.4 cy=597.4 r=3 /><circle class=n cx=180.2 cy=591.4 r=3 /><circle class=n cx=200.9 cy=597.5 r=3 /><circle class=n cx=178.5 cy=591.1 r=3 /><circle class=n cx=186.8 cy=593.8 r=3 /><circle class=n cx=173.1 cy=588.3 r=3 /><circle class=n cx=186.1 cy=593.7 r=3 /><circle class=n cx=205.5 cy=597.9 r=3 /><circle class=n cx=176.0 cy=589.9 r=3 /><circle class=n cx=187.9 cy=594.4 r=3 /><circle class=n cx=172.5 cy=587.8 r=3 /><circle class=n cx=197.1 cy=596.7 r=3 /><circle class=n cx=178.6 cy=591.0 r=3 /><circle class=n cx=198.4 cy=597.0 r=3 /><circle class=n cx=193.5 cy=595.9 r=3 /><circle class=n cx=206.4 cy=598.0 r=3 /><circle class=n cx=177.8 cy=590.5 r=3 /><circle class=n cx=196.4 cy=596.6 r=3 /><circle class=n cx=192.7 cy=595.8 r=3 /><circle class=n cx=172.6 cy=589.3 r=3 /><circle class=n cx=189.2 cy=594.7 r=3 /><circle class=n cx=206.4 cy=598.1 r=3 /><circle class=n cx=201.4 cy=597.4 r=3 /><circle class=n cx=182.5 cy=592.6 r=3 /><circle class=n cx=192.9 cy=595.7 r=3 /><circle class=n cx=182.3 cy=592.3 r=3 /><circle class=n cx=199.1 cy=597.2 r=3 /><circle class=n cx=197.2 cy=596.9 r=3 /><circle class=n cx=176.4 cy=589.9 r=3 /><circle class=n cx=199.2 cy=597.3 r=3 /><circle class=n cx=205.9 cy=598.0 r=3 /><circle class=n cx=193.6 cy=595.7 r=3 /><circle class=n cx=200.7 cy=597.3 r=3 /><circle class=n cx=183.2 cy=593.0 r=3 /><circle class=n cx=173.8 cy=588.6 r=3 /><circle class=n cx=196.7 cy=596.8 r=3 /><circle class=n cx=197.9 cy=597.1 r=3 /><circle class=n cx=193.2 cy=595.8 r=3 /><circle class=n cx=203.3 cy=597.7 r=3 /><circle class=n cx=175.6 cy=590.4 r=3 /><circle class=n cx=189.7 cy=594.7 r=3 /><circle class=n cx=174.0 cy=588.9 r=3 /><circle class=n cx=200.3 cy=597.5 r=3 /><circle class=n cx=177.9 cy=591.2 r=3 /><circle class=n cx=174.5 cy=588.6 r=3 /><circle class=n cx=200.4 cy=597.3 r=3 /><circle class=n cx=188.7 cy=594.6 r=3 /><circle class=n cx=194.9 cy=596.0 r=3 /><circle class=n cx=200.5 cy=597.2 r=3 /><circle class=n cx=198.5 cy=596.9 r=3 /><circle class=n cx=207.0 cy=598.0 r=3 /><circle class=n cx=200.9 cy=597.2 r=3 /><circle class=n cx=203.8 cy=597.6 r=3 /><circle class=n cx=175.7 cy=590.3 r=3 /><circle class=n cx=172.8 cy=588.0 r=3 /><circle class=n cx=203.0 cy=597.7 r=3 /><circle class=n cx=185.7 cy=593.8 r=3 /><circle class=n cx=201.6 cy=597.6 r=3 /><circle class=n cx=202.6 cy=597.5 r=3 /><circle class=n cx=196.6 cy=596.7 r=3 /><circle class=n cx=186.1 cy=593.5 r=3 /><circle class=n cx=195.3 cy=596.1 r=3 /><circle class=n cx=190.3 cy=595.1 r=3 /><circle class=n cx=196.4 cy=596.7 r=3 /><circle class=n cx=172.4 cy=589.3 r=3 /><circle class=n cx=181.3 cy=592.4 r=3 /><circle class=n cx=189.7 cy=594.8 r=3 /><circle class=n cx=193.0 cy=595.7 r=3 /><circle class=n cx=181.6 cy=592.5 r=3 /><circle class=n cx=181.8 cy=592.3 r=3 /><circle class=n cx=173.0 cy=588.3 r=3 /><circle class=n cx=203.6 cy=597.6 r=3 /><circle class=n cx=204.4 cy=597.8 r=3 /><circle class=n cx=179.4 cy=591.2 r=3 /><circle class=n cx=180.0 cy=591.8 r=3 /><circle class=n cx=174.2 cy=589.4 r=3 /><circle class=n cx=195.7 cy=596.4 r=3 /><circle class=n cx=193.9 cy=595.8 r=3 /><circle class=n cx=184.0 cy=593.0 r=3 /><circle class=n cx=199.7 cy=597.2 r=3 /><circle class=n cx=200.4 cy=597.3 r=3 /><circle class=n cx=172.2 cy=588.2 r=3 /><circle class=n cx=172.0 cy=588.4 r=3 /><circle class=n cx=194.8 cy=596.2 r=3 /><circle class=n cx=181.9 cy=591.8 r=3 /><circle class=n cx=203.2 cy=597.5 r=3 /><circle class=n cx=176.6 cy=589.7 r=3 /><circle class=n cx=181.7 cy=592.1 r=3 /><circle class=n cx=174.2 cy=589.9 r=3 /><circle class=n cx=202.1 cy=597.6 r=3 /><circle class=n cx=203.2 cy=597.6 r=3 /><circle class=n cx=193.5 cy=596.0 r=3 /><circle class=n cx=207.1 cy=598.1 r=3 /><circle class=n cx=196.1 cy=596.4 r=3 /><circle class=n cx=177.7 cy=591.0 r=3 /><circle class=n cx=183.2 cy=592.7 r=3 /><circle class=n cx=202.3 cy=597.4 r=3 /><circle class=n cx=181.6 cy=592.2 r=3 /><circle class=n cx=181.5 cy=591.8 r=3 /><circle class=n cx=196.7 cy=596.7 r=3 /><circle class=n cx=201.7 cy=597.4 r=3 /><circle class=n cx=204.9 cy=597.8 r=3 /><circle class=n cx=195.0 cy=596.1 r=3 /><circle class=n cx=174.2 cy=589.3 r=3 /><circle class=n cx=176.9 cy=590.6 r=3 /><circle class=n cx=200.6 cy=597.4 r=3 /><circle class=n cx=181.9 cy=592.0 r=3 /><circle class=n cx=198.4 cy=597.0 r=3 /><circle class=n cx=173.6 cy=588.5 r=3 /><circle class=n cx=184.6 cy=593.3 r=3 /><circle class=n cx=197.8 cy=597.2 r=3 /><circle class=n cx=195.3 cy=596.4 r=3 /><circle class=n cx=199.1 cy=597.2 r=3 /><circle class=n cx=198.2 cy=596.9 r=3 /><circle class=n cx=193.7 cy=595.8 r=3 /><circle class=n cx=206.7 cy=598.0 r=3 /><circle class=n cx=193.5 cy=595.9 r=3 /><circle class=n cx=180.8 cy=591.4 r=3 /><circle class=n cx=194.8 cy=596.2 r=3 /><circle class=n cx=185.3 cy=593.4 r=3 /><circle class=n cx=182.8 cy=592.7 r=3 /><circle class=n cx=197.4 cy=596.9 r=3 /><circle class=n cx=195.3 cy=596.2 r=3 /><circle class=n cx=172.1 cy=588.2 r=3 /><circle class=n cx=205.2 cy=598.0 r=3 /><circle class=n cx=173.2 cy=588.6 r=3 /><circle class=n cx=197.0 cy=596.5 r=3 /><circle class=n cx=179.7 cy=591.8 r=3 /><circle class=n cx=192.1 cy=595.3 r=3 /><circle class=n cx=191.8 cy=595.4 r=3 /><circle class=n cx=185.1 cy=593.1 r=3 /><circle class=n cx=197.2 cy=596.9 r=3 /><circle class=n cx=203.8 cy=597.7 r=3 /><circle class=n cx=190.4 cy=594.8 r=3 /><circle class=n cx=174.9 cy=589.6 r=3 /><circle class=n cx=190.8 cy=595.0 r=3 /><circle class=n cx=205.4 cy=597.9 r=3 /><circle class=n cx=184.2 cy=593.3 r=3 /><circle class=n cx=170.5 cy=586.8 r=3 /><circle class=n cx=185.7 cy=593.4 r=3 /><circle class=n cx=179.6 cy=591.3 r=3 /><circle class=n cx=190.5 cy=594.9 r=3 /><circle class=n cx=175.4 cy=590.2 r=3 /><circle class=n cx=206.6 cy=598.0 r=3 /><circle class=n cx=202.1 cy=597.6 r=3 /><circle class=n cx=171.9 cy=587.4 r=3 /><circle class=n cx=205.5 cy=597.9 r=3 /><circle class=n cx=172.9 cy=587.8 r=3 /><circle class=n cx=170.6 cy=586.9 r=3 /><circle class=n cx=201.0 cy=597.3 r=3 /><circle class=n cx=171.1 cy=587.7 r=3 /><circle class=n cx=195.2 cy=596.1 r=3 /><circle class=n cx=186.5 cy=593.8 r=3 /><circle class=n cx=179.6 cy=591.2 r=3 /><circle class=n cx=183.3 cy=592.4 r=3 /><circle class=n cx=176.2 cy=590.6 r=3 /><circle class=n cx=174.8 cy=589.9 r=3 /><circle class=n cx=184.7 cy=593.0 r=3 /><circle class=n cx=186.8 cy=593.9 r=3 /><circle class=n cx=176.2 cy=589.8 r=3 /><circle class=n cx=170.7 cy=588.1 r=3 /><circle class=n cx=174.9 cy=589.9 r=3 /><circle class=n cx=197.1 cy=596.6 r=3 /><circle class=n cx=204.6 cy=597.8 r=3 /><circle class=n cx=207.1 cy=598.0 r=3 /><circle class=n cx=177.1 cy=590.0 r=3 /><circle class=n cx=187.1 cy=594.1 r=3 /><circle class=n cx=206.2 cy=597.9 r=3 /><circle class=n cx=175.5 cy=589.2 r=3 /><circle class=n cx=203.9 cy=597.8 r=3 /><circle class=n cx=172.6 cy=589.0 r=3 /><circle class=n cx=186.5 cy=594.0 r=3 /><circle class=n cx=182.4 cy=592.1 r=3 /><circle class=n cx=197.8 cy=596.9 r=3 /><circle class=n cx=206.9 cy=598.0 r=3 /><circle class=n cx=188.4 cy=594.6 r=3 /><circle class=n cx=204.2 cy=597.8 r=3 /><circle class=n cx=203.8 cy=597.7 r=3 /><circle class=n cx=199.2 cy=597.1 r=3 /><circle class=n cx=183.2 cy=592.8 r=3 /><circle class=n cx=171.6 cy=587.3 r=3 /><circle class=n cx=198.4 cy=597.2 r=3 /><circle class=n cx=175.6 cy=590.4 r=3 /><circle class=n cx=187.7 cy=594.4 r=3 /><circle class=n cx=194.4 cy=595.9 r=3 /><circle class=n cx=171.4 cy=588.7 r=3 /><circle class=n cx=191.5 cy=595.5 r=3 /><circle class=n cx=205.2 cy=598.0 r=3 /><circle class=n cx=194.3 cy=595.9 r=3 /><circle class=n cx=205.8 cy=597.9 r=3 /><circle class=n cx=199.5 cy=597.2 r=3 /><circle class=n cx=182.5 cy=592.3 r=3 /><circle class=n cx=186.3 cy=593.7 r=3 /><circle class=n cx=192.5 cy=595.6 r=3 /><circle class=n cx=186.1 cy=593.6 r=3 /><circle class=n cx=203.9 cy=597.7 r=3 /><circle class=n cx=204.9 cy=597.9 r=3 /><circle class=n cx=178.9 cy=591.4 r=3 /><circle class=n cx=171.3 cy=588.9 r=3 /><circle class=n cx=195.4 cy=596.2 r=3 /><circle class=n cx=195.5 cy=596.3 r=3 /><circle class=n cx=201.7 cy=597.6 r=3 /><circle class=n cx=184.2 cy=592.8 r=3 /><circle class=n cx=202.7 cy=597.7 r=3 /><circle class=n cx=183.6 cy=592.7 r=3 /><circle class=n cx=198.8 cy=597.3 r=3 /><circle class=n cx=197.4 cy=596.8 r=3 /><circle class=n cx=199.0 cy=597.3 r=3 /><circle class=n cx=192.3 cy=595.6 r=3 /><circle class=n cx=191.5 cy=595.1 r=3 /><circle class=n cx=201.7 cy=597.4 r=3 /><circle class=n cx=186.3 cy=593.7 r=3 /><circle class=n cx=184.5 cy=593.1 r=3 /><circle class=n cx=176.2 cy=590.1 r=3 /><circle class=n cx=174.0 cy=588.8 r=3 /><circle class=n cx=198.5 cy=597.1 r=3 /><circle class=n cx=194.8 cy=596.0 r=3 /><circle class=n cx=175.9 cy=590.4 r=3 /><circle class=n cx=180.9 cy=592.0 r=3 /><circle class=n cx=194.1 cy=595.9 r=3 /><circle class=n cx=182.4 cy=592.1 r=3 /><circle class=n cx=186.5 cy=594.0 r=3 /><circle class=n cx=186.8 cy=594.0 r=3 /><circle class=n cx=185.6 cy=593.7 r=3 /><circle class=n cx=177.5 cy=591.0 r=3 /><circle class=n cx=182.9 cy=592.3 r=3 /><circle class=n cx=198.8 cy=597.0 r=3 /><circle class=n cx=198.4 cy=597.0 r=3 /><circle class=n cx=204.1 cy=597.7 r=3 /><circle class=n cx=196.2 cy=596.7 r=3 /><circle class=n cx=203.9 cy=597.7 r=3 /><circle class=n cx=204.5 cy=597.8 r=3 /><circle class=n cx=205.2 cy=597.8 r=3 /><circle class=n cx=188.5 cy=594.7 r=3 /><circle class=n cx=201.0 cy=597.2 r=3 /><circle class=n cx=194.5 cy=596.2 r=3 /><circle class=n cx=185.2 cy=593.3 r=3 /><circle class=n cx=181.8 cy=591.9 r=3 /><circle class=n cx=186.7 cy=594.1 r=3 /><circle class=n cx=195.2 cy=596.4 r=3 /><circle class=n cx=198.7 cy=597.0 r=3 /><circle class=n cx=180.7 cy=591.6 r=3 /><circle class=n cx=177.2 cy=590.1 r=3 /><circle class=n cx=185.0 cy=593.2 r=3 /><circle class=n cx=183.9 cy=592.9 r=3 /><circle class=n cx=184.0 cy=592.9 r=3 /><circle class=n cx=203.0 cy=597.5 r=3 /><circle class=n cx=202.5 cy=597.4 r=3 /><circle class=n cx=171.3 cy=588.2 r=3 /><circle class=n cx=183.2 cy=592.4 r=3 /><circle class=n cx=179.9 cy=591.8 r=3 /><circle class=n cx=204.8 cy=597.9 r=3 /><circle class=n cx=207.6 cy=598.2 r=3 /><circle class=n cx=191.2 cy=595.1 r=3 /><circle class=n cx=174.3 cy=589.5 r=3 /><circle class=n cx=172.3 cy=588.5 r=3 /><circle class=n cx=187.9 cy=594.3 r=3 /><circle class=n cx=192.1 cy=595.6 r=3 /><circle class=n cx=173.2 cy=588.4 r=3 /><circle class=n cx=194.5 cy=596.1 r=3 /><circle class=n cx=571.3 cy=580.8 r=3 /><circle class=n cx=573.6 cy=578.4 r=3 /><circle class=n cx=564.4 cy=584.7 r=3 /><circle class=n cx=553.5 cy=588.6 r=3 /><circle class=n cx=555.0 cy=590.4 r=3 /><circle class=n cx=561.1 cy=585.6 r=3 /><circle class=n cx=570.0 cy=576.6 r=3 /><circle class=n cx=543.3 cy=593.6 r=3 /><circle class=n cx=557.9 cy=585.8 r=3 /><circle class=n cx=537.9 cy=595.2 r=3 /><circle class=n cx=567.7 cy=578.9 r=3 /><circle class=n cx=558.3 cy=586.5 r=3 /><circle class=n cx=548.7 cy=591.5 r=3 /><circle class=n cx=569.4 cy=577.9 r=3 /><circle class=n cx=566.8 cy=580.8 r=3 /><circle class=n cx=551.5 cy=591.0 r=3 /><circle class=n cx=532.7 cy=596.3 r=3 /><circle class=n cx=568.3 cy=579.5 r=3 /><circle class=n cx=571.1 cy=576.5 r=3 /><circle class=n cx=562.3 cy=587.2 r=3 /><circle class=n cx=547.3 cy=592.9 r=3 /><circle class=n cx=573.4 cy=577.1 r=3 /><circle class=n cx=572.4 cy=580.8 r=3 /><circle class=n cx=568.8 cy=577.2 r=3 /><circle class=n cx=568.9 cy=581.6 r=3 /><circle class=n cx=569.2 cy=578.5 r=3 /><circle class=n cx=568.8 cy=577.0 r=3 /><circle class=n cx=535.6 cy=595.8 r=3 /><circle class=n cx=568.9 cy=580.9 r=3 /><circle class=n cx=547.4 cy=591.7 r=3 /><circle class=n cx=566.0 cy=582.7 r=3 /><circle class=n cx=552.4 cy=588.9 r=3 /><circle class=n cx=556.4 cy=587.1 r=3 /><circle class=n cx=554.5 cy=588.2 r=3 /><circle class=n cx=554.0 cy=591.2 r=3 /><circle class=n cx=567.2 cy=581.9 r=3 /><circle class=n cx=549.4 cy=592.0 r=3 /><circle class=n cx=571.7 cy=581.5 r=3 /><circle class=n cx=562.5 cy=585.6 r=3 /><circle class=n cx=562.4 cy=586.1 r=3 /><circle class=n cx=568.2 cy=577.0 r=3 /><circle class=n cx=549.6 cy=591.5 r=3 /><circle class=n cx=539.1 cy=595.0 r=3 /><circle class=n cx=572.3 cy=578.1 r=3 /><circle class=n cx=565.6 cy=580.8 r=3 /><circle class=n cx=565.1 cy=585.2 r=3 /><circle class=n cx=555.1 cy=590.9 r=3 /><circle class=n cx=572.1 cy=578.3 r=3 /><circle class=n cx=561.0 cy=587.4 r=3 /><circle class=n cx=557.7 cy=589.6 r=3 /><circle class=n cx=558.8 cy=589.7 r=3 /><circle class=n cx=534.3 cy=596.7 r=3 /><circle class=n cx=567.0 cy=581.3 r=3 /><circle class=n cx=541.0 cy=594.4 r=3 /><circle class=n cx=568.3 cy=579.5 r=3 /><circle class=n cx=567.8 cy=578.8 r=3 /><circle class=n cx=559.6 cy=585.7 r=3 /><circle class=n cx=544.3 cy=593.4 r=3 /><circle class=n cx=551.4 cy=592.0 r=3 /><circle class=n cx=562.3 cy=584.7 r=3 /><circle class=n cx=551.5 cy=589.6 r=3 /><circle class=n cx=565.0 cy=586.6 r=3 /><circle class=n cx=558.0 cy=585.8 r=3 /><circle class=n cx=565.3 cy=578.9 r=3 /><circle class=n cx=570.7 cy=578.6 r=3 /><circle class=n cx=571.2 cy=578.8 r=3 /><circle class=n cx=565.5 cy=580.5 r=3 /><circle class=n cx=553.4 cy=589.1 r=3 /><circle class=n cx=546.8 cy=592.3 r=3 /><circle class=n cx=557.7 cy=588.6 r=3 /><circle class=n cx=564.0 cy=583.5 r=3 /><circle class=n cx=566.6 cy=581.4 r=3 /><circle class=n cx=569.2 cy=578.9 r=3 /><circle class=n cx=536.4 cy=596.0 r=3 /><circle class=n cx=568.9 cy=583.7 r=3 /><circle class=n cx=570.9 cy=582.1 r=3 /><circle class=n cx=531.3 cy=597.5 r=3 /><circle class=n cx=559.7 cy=586.9 r=3 /><circle class=n cx=539.2 cy=594.8 r=3 /><circle class=n cx=552.9 cy=588.9 r=3 /><circle class=n cx=542.5 cy=593.9 r=3 /><circle class=n cx=557.8 cy=588.6 r=3 /><circle class=n cx=564.2 cy=583.2 r=3 /><circle class=n cx=568.2 cy=582.2 r=3 /><circle class=n cx=564.6 cy=584.4 r=3 /><circle class=n cx=568.4 cy=580.3 r=3 /><circle class=n cx=550.3 cy=591.5 r=3 /><circle class=n cx=543.5 cy=593.9 r=3 /><circle class=n cx=568.0 cy=582.4 r=3 /><circle class=n cx=564.1 cy=584.3 r=3 /><circle class=n cx=548.0 cy=592.4 r=3 /><circle class=n cx=567.7 cy=576.8 r=3 /><circle class=n cx=572.0 cy=579.0 r=3 /><circle class=n cx=569.8 cy=581.1 r=3 /><circle class=n cx=553.7 cy=589.3 r=3 /><circle class=n cx=566.3 cy=582.7 r=3 /><circle class=n cx=560.8 cy=588.5 r=3 /><circle class=n cx=566.7 cy=581.1 r=3 /><circle class=n cx=563.3 cy=581.2 r=3 /><circle class=n cx=544.7 cy=593.4 r=3 /><circle class=n cx=567.5 cy=582.7 r=3 /><circle class=n cx=568.6 cy=584.1 r=3 /><circle class=n cx=559.0 cy=588.9 r=3 /><circle class=n cx=566.9 cy=580.9 r=3 /><circle class=n cx=553.7 cy=588.3 r=3 /><circle class=n cx=559.4 cy=588.6 r=3 /><circle class=n cx=561.9 cy=586.8 r=3 /><circle class=n cx=567.6 cy=582.6 r=3 /><circle class=n cx=557.3 cy=589.8 r=3 /><circle class=n cx=559.3 cy=586.6 r=3 /><circle class=n cx=567.4 cy=580.0 r=3 /><circle class=n cx=561.9 cy=585.3 r=3 /><circle class=n cx=566.4 cy=585.3 r=3 /><circle class=n cx=556.4 cy=588.9 r=3 /><circle class=n cx=558.3 cy=586.0 r=3 /><circle class=n cx=565.3 cy=581.4 r=3 /><circle class=n cx=565.9 cy=585.6 r=3 /><circle class=n cx=555.3 cy=587.4 r=3 /><circle class=n cx=561.0 cy=585.7 r=3 /><circle class=n cx=563.0 cy=580.9 r=3 /><circle class=n cx=560.1 cy=587.4 r=3 /><circle class=n cx=559.4 cy=587.6 r=3 /><circle class=n cx=565.8 cy=579.9 r=3 /><circle class=n cx=568.8 cy=582.5 r=3 /><circle class=n cx=556.1 cy=588.3 r=3 /><circle class=n cx=558.1 cy=589.4 r=3 /><circle class=n cx=562.0 cy=585.7 r=3 /><circle class=n cx=535.2 cy=596.4 r=3 /><circle class=n cx=544.3 cy=593.6 r=3 /><circle class=n cx=562.0 cy=585.3 r=3 /><circle class=n cx=559.8 cy=586.5 r=3 /><circle class=n cx=542.8 cy=593.8 r=3 /><circle class=n cx=567.2 cy=578.0 r=3 /><circle class=n cx=556.6 cy=587.5 r=3 /><circle class=n cx=563.8 cy=587.4 r=3 /><circle class=n cx=565.5 cy=581.0 r=3 /><circle class=n cx=567.9 cy=580.8 r=3 /><circle class=n cx=568.8 cy=580.4 r=3 /><circle class=n cx=573.1 cy=578.9 r=3 /><circle class=n cx=572.6 cy=577.7 r=3 /><circle class=n cx=560.5 cy=588.5 r=3 /><circle class=n cx=566.4 cy=578.4 r=3 /><circle class=n cx=563.6 cy=585.3 r=3 /><circle class=n cx=558.9 cy=587.2 r=3 /><circle class=n cx=572.2 cy=581.1 r=3 /><circle class=n cx=573.1 cy=578.4 r=3 /><circle class=n cx=565.3 cy=583.5 r=3 /><circle class=n cx=556.3 cy=590.6 r=3 /><circle class=n cx=570.1 cy=581.6 r=3 /><circle class=n cx=567.7 cy=582.6 r=3 /><circle class=n cx=561.7 cy=584.7 r=3 /><circle class=n cx=568.1 cy=576.4 r=3 /><circle class=n cx=543.8 cy=594.0 r=3 /><circle class=n cx=556.9 cy=589.9 r=3 /><circle class=n cx=559.7 cy=589.3 r=3 /><circle class=n cx=558.8 cy=587.8 r=3 /><circle class=n cx=562.5 cy=588.1 r=3 /><circle class=n cx=566.9 cy=577.9 r=3 /><circle class=n cx=571.3 cy=578.5 r=3 /><circle class=n cx=570.2 cy=578.5 r=3 /><circle class=n cx=570.3 cy=577.8 r=3 /><circle class=n cx=546.5 cy=593.2 r=3 /><circle class=n cx=556.1 cy=590.4 r=3 /><circle class=n cx=558.5 cy=589.0 r=3 /><circle class=n cx=538.0 cy=595.2 r=3 /><circle class=n cx=566.6 cy=577.8 r=3 /><circle class=n cx=554.7 cy=588.6 r=3 /><circle class=n cx=545.0 cy=592.6 r=3 /><circle class=n cx=566.4 cy=583.1 r=3 /><circle class=n cx=562.2 cy=582.9 r=3 /><circle class=n cx=562.4 cy=587.5 r=3 /><circle class=n cx=552.3 cy=589.5 r=3 /><circle class=n cx=541.4 cy=594.5 r=3 /><circle class=n cx=531.4 cy=597.3 r=3 /><circle class=n cx=545.4 cy=592.5 r=3 /><circle class=n cx=571.1 cy=581.6 r=3 /><circle class=n cx=557.0 cy=588.4 r=3 /><circle class=n cx=572.4 cy=577.3 r=3 /><circle class=n cx=567.1 cy=580.1 r=3 /><circle class=n cx=555.4 cy=588.2 r=3 /><circle class=n cx=552.8 cy=590.5 r=3 /><circle class=n cx=552.4 cy=591.3 r=3 /><circle class=n cx=552.7 cy=589.5 r=3 /><circle class=n cx=569.0 cy=577.6 r=3 /><circle class=n cx=568.5 cy=583.0 r=3 /><circle class=n cx=569.0 cy=579.3 r=3 /><circle class=n cx=572.3 cy=580.9 r=3 /><circle class=n cx=572.6 cy=578.9 r=3 /><circle class=n cx=566.3 cy=578.8 r=3 /><circle class=n cx=537.4 cy=595.9 r=3 /><circle class=n cx=565.4 cy=583.5 r=3 /><circle class=n cx=569.9 cy=582.5 r=3 /><circle class=n cx=570.2 cy=579.8 r=3 /><circle class=n cx=563.9 cy=586.4 r=3 /><circle class=n cx=560.0 cy=588.1 r=3 /><circle class=n cx=553.7 cy=591.4 r=3 /><circle class=n cx=563.6 cy=580.6 r=3 /><circle class=n cx=568.4 cy=577.9 r=3 /><circle class=n cx=571.0 cy=578.7 r=3 /><circle class=n cx=566.7 cy=580.4 r=3 /><circle class=n cx=569.7 cy=583.4 r=3 /><circle class=n cx=556.1 cy=588.0 r=3 /><circle class=n cx=551.7 cy=591.4 r=3 /><circle class=n cx=567.6 cy=579.6 r=3 /><circle class=n cx=563.0 cy=584.9 r=3 /><circle class=n cx=536.3 cy=596.0 r=3 /><circle class=n cx=564.5 cy=579.9 r=3 /><circle class=n cx=550.8 cy=590.7 r=3 /><circle class=n cx=537.6 cy=595.5 r=3 /><circle class=n cx=563.3 cy=582.3 r=3 /><circle class=n cx=553.2 cy=589.4 r=3 /><circle class=n cx=538.8 cy=595.1 r=3 /><circle class=n cx=566.8 cy=578.4 r=3 /><circle class=n cx=564.5 cy=582.1 r=3 /><circle class=n cx=568.9 cy=581.1 r=3 /><circle class=n cx=571.7 cy=576.5 r=3 /><circle class=n cx=560.0 cy=587.4 r=3 /><circle class=n cx=558.0 cy=588.7 r=3 /><circle class=n cx=566.4 cy=585.2 r=3 /><circle class=n cx=546.2 cy=593.1 r=3 /><circle class=n cx=568.0 cy=577.9 r=3 /><circle class=n cx=550.2 cy=591.5 r=3 /><circle class=n cx=566.5 cy=578.1 r=3 /><circle class=n cx=536.1 cy=596.1 r=3 /><circle class=n cx=569.8 cy=577.6 r=3 /><circle class=n cx=549.0 cy=592.6 r=3 /><circle class=n cx=572.3 cy=579.3 r=3 /><circle class=n cx=563.8 cy=582.2 r=3 /><circle class=n cx=564.8 cy=579.7 r=3 /><circle class=n cx=572.1 cy=580.8 r=3 /><circle class=n cx=560.9 cy=583.3 r=3 /><circle class=n cx=564.0 cy=582.3 r=3 /><circle class=n cx=563.2 cy=586.6 r=3 /><circle class=n cx=563.4 cy=585.2 r=3 /><circle class=n cx=560.9 cy=584.8 r=3 /><circle class=n cx=563.7 cy=586.0 r=3 /><circle class=n cx=563.9 cy=586.0 r=3 /><circle class=n cx=567.4 cy=582.7 r=3 /><circle class=n cx=568.0 cy=582.5 r=3 /><circle class=n cx=553.2 cy=590.0 r=3 /><circle class=n cx=536.9 cy=595.9 r=3 /><circle class=n cx=559.6 cy=589.6 r=3 /><circle class=n cx=549.2 cy=592.0 r=3 /><circle class=n cx=573.3 cy=579.0 r=3 /><circle class=n cx=535.7 cy=595.8 r=3 /><circle class=n cx=554.1 cy=589.2 r=3 /><circle class=n cx=564.3 cy=584.5 r=3 /><circle class=n cx=542.6 cy=593.7 r=3 /><circle class=n cx=565.2 cy=584.6 r=3 /><circle class=n cx=559.9 cy=585.4 r=3 /><circle class=n cx=561.9 cy=583.8 r=3 /><circle class=n cx=570.8 cy=579.5 r=3 /><circle class=n cx=572.2 cy=576.5 r=3 /><circle class=n cx=560.2 cy=588.9 r=3 /><circle class=n cx=567.9 cy=585.0 r=3 /><circle class=n cx=564.5 cy=581.4 r=3 /><circle class=n cx=572.5 cy=578.1 r=3 /><circle class=n cx=568.9 cy=577.9 r=3 /><circle class=n cx=560.7 cy=587.7 r=3 /><circle class=n cx=540.9 cy=594.0 r=3 /><circle class=n cx=559.8 cy=585.8 r=3 /><circle class=n cx=561.4 cy=584.2 r=3 /><circle class=n cx=531.8 cy=596.9 r=3 /><circle class=n cx=559.3 cy=587.9 r=3 /><circle class=n cx=530.4 cy=596.8 r=3 /><circle class=n cx=569.6 cy=580.8 r=3 /><circle class=n cx=559.4 cy=588.0 r=3 /><circle class=n cx=560.4 cy=586.2 r=3 /><circle class=n cx=568.8 cy=582.0 r=3 /><circle class=n cx=567.9 cy=580.6 r=3 /><circle class=n cx=573.5 cy=576.5 r=3 /><circle class=n cx=563.0 cy=586.6 r=3 /><circle class=n cx=569.1 cy=579.6 r=3 /><circle class=n cx=559.6 cy=587.7 r=3 /><circle class=n cx=572.4 cy=579.2 r=3 /><circle class=n cx=544.8 cy=593.8 r=3 /><circle class=n cx=547.5 cy=592.9 r=3 /><circle class=n cx=547.9 cy=591.9 r=3 /><circle class=n cx=566.9 cy=584.7 r=3 /><circle class=n cx=557.5 cy=586.7 r=3 /><circle class=n cx=550.6 cy=591.0 r=3 /><circle class=n cx=563.6 cy=584.3 r=3 /><circle class=n cx=546.9 cy=591.8 r=3 /><circle class=n cx=561.5 cy=588.5 r=3 /><circle class=n cx=564.5 cy=583.2 r=3 /><circle class=n cx=564.9 cy=583.8 r=3 /><circle class=n cx=570.5 cy=576.9 r=3 /><circle class=n cx=567.8 cy=585.3 r=3 /><circle class=n cx=570.0 cy=583.2 r=3 /><circle class=n cx=571.4 cy=582.1 r=3 /><circle class=n cx=550.7 cy=592.3 r=3 /><circle class=n cx=568.5 cy=577.1 r=3 /><circle class=n cx=550.1 cy=590.6 r=3 /><circle class=n cx=572.4 cy=578.5 r=3 /><circle class=n cx=557.3 cy=590.3 r=3 /><circle class=n cx=542.5 cy=593.7 r=3 /><circle class=n cx=555.4 cy=590.0 r=3 /><circle class=n cx=566.3 cy=586.2 r=3 /><circle class=n cx=561.8 cy=584.4 r=3 /><circle class=n cx=535.5 cy=595.9 r=3 /><circle class=n cx=549.0 cy=591.1 r=3 /><circle class=n cx=569.6 cy=577.6 r=3 /><circle class=n cx=535.4 cy=596.1 r=3 /><circle class=n cx=560.8 cy=588.0 r=3 /><circle class=n cx=561.4 cy=587.0 r=3 /><circle class=n cx=569.8 cy=581.4 r=3 /><circle class=n cx=564.1 cy=583.0 r=3 /><circle class=n cx=555.3 cy=588.6 r=3 /><circle class=n cx=557.2 cy=587.4 r=3 /><circle class=n cx=548.9 cy=590.9 r=3 /><circle class=n cx=567.3 cy=577.9 r=3 /><circle class=n cx=571.1 cy=576.9 r=3 /><circle class=n cx=549.2 cy=591.7 r=3 /><circle class=n cx=565.9 cy=584.1 r=3 /><circle class=n cx=555.1 cy=589.6 r=3 /><circle class=n cx=568.5 cy=583.2 r=3 /><circle class=n cx=568.6 cy=583.4 r=3 /><circle class=n cx=565.8 cy=583.5 r=3 /><circle class=n cx=570.7 cy=579.7 r=3 /><circle class=n cx=572.6 cy=578.3 r=3 /><circle class=n cx=572.4 cy=580.6 r=3 /><circle class=n cx=534.9 cy=596.2 r=3 /><circle class=n cx=537.4 cy=595.9 r=3 /><circle class=n cx=568.2 cy=581.7 r=3 /><circle class=n cx=562.3 cy=583.3 r=3 /><circle class=n cx=558.5 cy=586.0 r=3 /><circle class=n cx=569.8 cy=578.7 r=3 /><circle class=n cx=566.2 cy=580.2 r=3 /><circle class=n cx=570.6 cy=577.0 r=3 /><circle class=n cx=561.5 cy=585.3 r=3 /><circle class=n cx=563.3 cy=581.6 r=3 /><circle class=n cx=559.9 cy=589.1 r=3 /><circle class=n cx=569.9 cy=577.5 r=3 /><circle class=n cx=570.1 cy=577.9 r=3 /><circle class=n cx=573.7 cy=577.0 r=3 /><circle class=n cx=558.4 cy=586.2 r=3 /><circle class=n cx=570.5 cy=581.0 r=3 /><circle class=n cx=558.1 cy=585.8 r=3 /><circle class=n cx=564.6 cy=581.5 r=3 /><circle class=n cx=562.8 cy=585.9 r=3 /><circle class=n cx=572.2 cy=577.0 r=3 /><circle class=n cx=572.9 cy=577.1 r=3 /><circle class=n cx=566.2 cy=578.2 r=3 /><circle class=n cx=533.7 cy=595.9 r=3 /><circle class=n cx=564.4 cy=584.2 r=3 /><circle class=n cx=546.9 cy=592.4 r=3 /><circle class=n cx=570.0 cy=576.6 r=3 /><circle class=n cx=562.3 cy=586.1 r=3 /><circle class=n cx=572.6 cy=579.2 r=3 /><circle class=n cx=565.2 cy=585.7 r=3 /><circle class=n cx=566.6 cy=577.2 r=3 /><circle class=n cx=573.2 cy=579.4 r=3 /><circle class=n cx=563.2 cy=583.3 r=3 /><circle class=n cx=557.2 cy=589.0 r=3 /><circle class=n cx=554.7 cy=591.0 r=3 /><circle class=n cx=565.3 cy=580.5 r=3 /><circle class=n cx=559.5 cy=584.7 r=3 /><circle class=n cx=569.6 cy=576.4 r=3 /><circle class=n cx=567.2 cy=576.9 r=3 /><circle class=n cx=552.8 cy=591.3 r=3 /><circle class=n cx=533.2 cy=596.3 r=3 /><circle class=n cx=550.5 cy=591.3 r=3 /><circle class=n cx=545.2 cy=592.6 r=3 /><circle class=n cx=532.7 cy=596.0 r=3 /><circle class=n cx=552.5 cy=590.4 r=3 /><circle class=n cx=560.9 cy=586.3 r=3 /><circle class=n cx=527.2 cy=597.4 r=3 /><circle class=n cx=547.2 cy=592.7 r=3 /><circle class=n cx=529.7 cy=596.6 r=3 /><circle class=n cx=543.3 cy=593.5 r=3 /><circle class=n cx=535.6 cy=595.3 r=3 /><circle class=n cx=543.8 cy=593.5 r=3 /><circle class=n cx=562.2 cy=585.0 r=3 /><circle class=n cx=553.8 cy=591.0 r=3 /><circle class=n cx=550.7 cy=591.1 r=3 /><circle class=n cx=550.2 cy=591.3 r=3 /><circle class=n cx=564.3 cy=583.7 r=3 /><circle class=n cx=528.5 cy=597.0 r=3 /><circle class=n cx=557.4 cy=588.6 r=3 /><circle class=n cx=563.0 cy=584.9 r=3 /><circle class=n cx=548.1 cy=591.7 r=3 /><circle class=n cx=556.2 cy=589.3 r=3 /><circle class=n cx=564.0 cy=585.0 r=3 /><circle class=n cx=552.8 cy=591.3 r=3 /><circle class=n cx=557.0 cy=589.2 r=3 /><circle class=n cx=554.6 cy=589.6 r=3 /><circle class=n cx=528.3 cy=596.9 r=3 /><circle class=n cx=542.5 cy=593.6 r=3 /><circle class=n cx=546.4 cy=592.2 r=3 /><circle class=n cx=542.2 cy=593.8 r=3 /><circle class=n cx=549.0 cy=591.7 r=3 /><circle class=n cx=539.1 cy=594.4 r=3 /><circle class=n cx=549.7 cy=591.5 r=3 /><circle class=n cx=528.8 cy=597.0 r=3 /><circle class=n cx=538.9 cy=594.6 r=3 /><circle class=n cx=542.1 cy=594.1 r=3 /><circle class=n cx=557.3 cy=588.8 r=3 /><circle class=n cx=562.4 cy=586.0 r=3 /><circle class=n cx=552.6 cy=590.3 r=3 /><circle class=n cx=533.4 cy=596.0 r=3 /><circle class=n cx=541.2 cy=594.3 r=3 /><circle class=n cx=556.9 cy=589.4 r=3 /><circle class=n cx=533.4 cy=595.9 r=3 /><circle class=n cx=560.3 cy=588.5 r=3 /><circle class=n cx=564.7 cy=583.9 r=3 /><circle class=n cx=544.5 cy=592.7 r=3 /><circle class=n cx=552.0 cy=591.3 r=3 /><circle class=n cx=535.6 cy=595.4 r=3 /><circle class=n cx=535.1 cy=595.4 r=3 /><circle class=n cx=533.3 cy=596.2 r=3 /><circle class=n cx=547.7 cy=592.4 r=3 /><circle class=n cx=532.9 cy=596.2 r=3 /><circle class=n cx=529.9 cy=596.5 r=3 /><circle class=n cx=532.3 cy=596.3 r=3 /><circle class=n cx=548.6 cy=592.2 r=3 /><circle class=n cx=540.6 cy=594.3 r=3 /><circle class=n cx=553.0 cy=590.5 r=3 /><circle class=n cx=542.5 cy=594.0 r=3 /><circle class=n cx=545.8 cy=592.4 r=3 /><circle class=n cx=553.9 cy=590.4 r=3 /><circle class=n cx=552.2 cy=591.1 r=3 /><circle class=n cx=563.9 cy=584.5 r=3 /><circle class=n cx=550.5 cy=591.9 r=3 /><circle class=n cx=530.6 cy=596.4 r=3 /><circle class=n cx=532.7 cy=596.0 r=3 /><circle class=n cx=559.7 cy=587.0 r=3 /><circle class=n cx=545.1 cy=593.3 r=3 /><circle class=n cx=532.1 cy=596.3 r=3 /><circle class=n cx=544.6 cy=593.0 r=3 /><circle class=n cx=552.2 cy=591.0 r=3 /><circle class=n cx=533.0 cy=596.1 r=3 /><circle class=n cx=552.5 cy=591.1 r=3 /><circle class=n cx=531.4 cy=596.3 r=3 /><circle class=n cx=547.3 cy=592.3 r=3 /><circle class=n cx=536.2 cy=595.5 r=3 /><circle class=n cx=555.2 cy=590.0 r=3 /><circle class=n cx=539.2 cy=594.4 r=3 /><circle class=n cx=532.7 cy=596.1 r=3 /><circle class=n cx=557.2 cy=589.9 r=3 /><circle class=n cx=560.9 cy=587.3 r=3 /><circle class=n cx=556.4 cy=590.1 r=3 /><circle class=n cx=553.1 cy=591.2 r=3 /><circle class=n cx=541.2 cy=594.0 r=3 /><circle class=n cx=527.9 cy=597.1 r=3 /><circle class=n cx=539.0 cy=594.9 r=3 /><circle class=n cx=542.7 cy=593.4 r=3 /><circle class=n cx=529.8 cy=596.5 r=3 /><circle class=n cx=535.6 cy=595.3 r=3 /><circle class=n cx=543.2 cy=593.8 r=3 /><circle class=n cx=537.0 cy=595.0 r=3 /><circle class=n cx=536.3 cy=595.2 r=3 /><circle class=n cx=548.2 cy=592.3 r=3 /><circle class=n cx=551.8 cy=591.7 r=3 /><circle class=n cx=540.6 cy=594.0 r=3 /><circle class=n cx=538.9 cy=594.4 r=3 /><circle class=n cx=558.4 cy=588.3 r=3 /><circle class=n cx=552.1 cy=590.3 r=3 /><circle class=n cx=538.5 cy=595.0 r=3 /><circle class=n cx=562.5 cy=587.0 r=3 /><circle class=n cx=561.7 cy=586.3 r=3 /><circle class=n cx=538.0 cy=595.0 r=3 /><circle class=n cx=549.9 cy=591.0 r=3 /><circle class=n cx=530.8 cy=596.7 r=3 /><circle class=n cx=554.6 cy=590.6 r=3 /><circle class=n cx=527.8 cy=597.2 r=3 /><circle class=n cx=528.2 cy=597.0 r=3 /><circle class=n cx=551.5 cy=591.7 r=3 /><circle class=n cx=528.3 cy=596.9 r=3 /><circle class=n cx=563.8 cy=584.7 r=3 /><circle class=n cx=527.2 cy=597.3 r=3 /><circle class=n cx=556.5 cy=588.8 r=3 /><circle class=n cx=540.7 cy=594.5 r=3 /><circle class=n cx=539.0 cy=594.8 r=3 /><circle class=n cx=562.4 cy=585.3 r=3 /><circle class=n cx=552.1 cy=590.3 r=3 /><circle class=n cx=548.9 cy=592.3 r=3 /><circle class=n cx=532.9 cy=595.8 r=3 /><circle class=n cx=541.7 cy=593.5 r=3 /><circle class=n cx=559.6 cy=587.9 r=3 /><circle class=n cx=555.7 cy=588.9 r=3 /><circle class=n cx=559.5 cy=588.0 r=3 /><circle class=n cx=564.9 cy=584.1 r=3 /><circle class=n cx=535.7 cy=595.5 r=3 /><circle class=n cx=560.1 cy=587.5 r=3 /><circle class=n cx=527.5 cy=597.1 r=3 /><circle class=n cx=534.4 cy=596.0 r=3 /><circle class=n cx=555.4 cy=590.0 r=3 /><circle class=n cx=560.5 cy=587.1 r=3 /><circle class=n cx=543.4 cy=593.5 r=3 /><circle class=n cx=560.7 cy=587.5 r=3 /><circle class=n cx=533.2 cy=596.0 r=3 /><circle class=n cx=558.4 cy=588.6 r=3 /><circle class=n cx=558.5 cy=587.7 r=3 /><circle class=n cx=553.8 cy=589.7 r=3 /><circle class=n cx=545.2 cy=593.3 r=3 /><circle class=n cx=540.3 cy=594.1 r=3 /><circle class=n cx=528.3 cy=596.9 r=3 /><circle class=n cx=527.4 cy=597.3 r=3 /><circle class=n cx=542.0 cy=594.2 r=3 /><circle class=n cx=544.8 cy=593.4 r=3 /><circle class=n cx=545.4 cy=592.7 r=3 /><circle class=n cx=530.2 cy=596.7 r=3 /><circle class=n cx=558.6 cy=588.1 r=3 /><circle class=n cx=549.1 cy=591.7 r=3 /><circle class=n cx=528.8 cy=597.0 r=3 /><circle class=n cx=527.3 cy=597.3 r=3 /><circle class=n cx=535.1 cy=595.9 r=3 /><circle class=n cx=542.0 cy=593.7 r=3 /><circle class=n cx=553.5 cy=589.9 r=3 /><circle class=n cx=555.2 cy=589.3 r=3 /><circle class=n cx=558.6 cy=587.9 r=3 /><circle class=n cx=557.3 cy=589.1 r=3 /><circle class=n cx=551.5 cy=590.7 r=3 /><circle class=n cx=558.4 cy=587.9 r=3 /><circle class=n cx=544.5 cy=593.4 r=3 /><circle class=n cx=547.3 cy=591.9 r=3 /><circle class=n cx=564.3 cy=585.3 r=3 /><circle class=n cx=534.4 cy=595.5 r=3 /><circle class=n cx=552.6 cy=591.4 r=3 /><circle class=n cx=558.9 cy=588.2 r=3 /><circle class=n cx=531.0 cy=596.5 r=3 /><circle class=n cx=561.3 cy=586.2 r=3 /><circle class=n cx=531.6 cy=596.3 r=3 /><circle class=n cx=541.1 cy=594.3 r=3 /><circle class=n cx=527.7 cy=597.3 r=3 /><circle class=n cx=546.5 cy=592.9 r=3 /><circle class=n cx=532.0 cy=596.0 r=3 /><circle class=n cx=555.2 cy=590.0 r=3 /><circle class=n cx=531.2 cy=596.6 r=3 /><circle class=n cx=529.2 cy=597.0 r=3 /><circle class=n cx=542.3 cy=593.9 r=3 /><circle class=n cx=559.7 cy=588.2 r=3 /><circle class=n cx=528.2 cy=596.8 r=3 /><circle class=n cx=544.9 cy=592.7 r=3 /><circle class=n cx=557.2 cy=589.1 r=3 /><circle class=n cx=553.3 cy=590.2 r=3 /><circle class=n cx=532.8 cy=595.8 r=3 /><circle class=n cx=540.0 cy=594.3 r=3 /><circle class=n cx=560.5 cy=586.5 r=3 /><circle class=n cx=562.2 cy=585.1 r=3 /><circle class=n cx=545.6 cy=592.9 r=3 /><circle class=n cx=555.3 cy=590.1 r=3 /><circle class=n cx=544.3 cy=593.0 r=3 /><circle class=n cx=531.5 cy=596.6 r=3 /><circle class=n cx=531.8 cy=596.1 r=3 /><circle class=n cx=560.9 cy=587.8 r=3 /><circle class=n cx=564.4 cy=585.6 r=3 /><circle class=n cx=544.5 cy=593.1 r=3 /><circle class=n cx=552.7 cy=590.3 r=3 /><circle class=n cx=548.6 cy=592.4 r=3 /><circle class=n cx=546.2 cy=592.9 r=3 /><circle class=n cx=559.4 cy=588.9 r=3 /><circle class=n cx=536.4 cy=595.2 r=3 /><circle class=n cx=529.8 cy=596.9 r=3 /><circle class=n cx=564.0 cy=585.9 r=3 /><circle class=n cx=543.0 cy=593.5 r=3 /><circle class=n cx=562.9 cy=584.9 r=3 /><circle class=n cx=557.0 cy=589.9 r=3 /><circle class=n cx=538.7 cy=594.5 r=3 /><circle class=n cx=533.7 cy=595.9 r=3 /><circle class=n cx=555.3 cy=590.4 r=3 /><circle class=n cx=547.9 cy=592.2 r=3 /><circle class=n cx=557.5 cy=588.6 r=3 /><circle class=n cx=552.8 cy=590.3 r=3 /><circle class=n cx=532.8 cy=596.3 r=3 /><circle class=n cx=555.2 cy=590.7 r=3 /><circle class=n cx=564.2 cy=584.5 r=3 /><circle class=n cx=561.2 cy=587.1 r=3 /><circle class=n cx=559.2 cy=588.3 r=3 /><circle class=n cx=548.3 cy=592.2 r=3 /><circle class=n cx=551.6 cy=591.6 r=3 /><circle class=n cx=548.4 cy=592.4 r=3 /><circle class=n cx=543.9 cy=593.3 r=3 /><circle class=n cx=529.1 cy=596.8 r=3 /><circle class=n cx=554.2 cy=590.2 r=3 /><circle class=n cx=541.6 cy=594.2 r=3 /><circle class=n cx=542.6 cy=593.4 r=3 /><circle class=n cx=533.7 cy=596.0 r=3 /><circle class=n cx=538.8 cy=594.5 r=3 /><circle class=n cx=538.2 cy=594.7 r=3 /><circle class=n cx=530.1 cy=596.5 r=3 /><circle class=n cx=557.3 cy=589.7 r=3 /><circle class=n cx=565.0 cy=584.9 r=3 /><circle class=n cx=561.9 cy=587.1 r=3 /><circle class=n cx=558.2 cy=588.4 r=3 /><circle class=n cx=557.6 cy=589.2 r=3 /><circle class=n cx=545.4 cy=592.8 r=3 /><circle class=n cx=543.0 cy=593.9 r=3 /><circle class=n cx=537.6 cy=594.8 r=3 /><circle class=n cx=552.0 cy=590.8 r=3 /><circle class=n cx=530.1 cy=596.6 r=3 /><circle class=n cx=557.1 cy=589.0 r=3 /><circle class=n cx=555.1 cy=590.6 r=3 /><circle class=n cx=545.5 cy=593.1 r=3 /><circle class=n cx=550.9 cy=591.3 r=3 /><circle class=n cx=547.9 cy=592.1 r=3 /><circle class=n cx=559.8 cy=587.4 r=3 /><circle class=n cx=540.2 cy=594.0 r=3 /><circle class=n cx=562.8 cy=586.0 r=3 /><circle class=n cx=531.7 cy=596.3 r=3 /><circle class=n cx=554.5 cy=590.8 r=3 /><circle class=n cx=548.9 cy=592.3 r=3 /><circle class=n cx=564.3 cy=585.3 r=3 /><circle class=n cx=538.7 cy=594.9 r=3 /><circle class=n cx=558.3 cy=589.2 r=3 /><circle class=n cx=561.3 cy=587.2 r=3 /><circle class=n cx=563.1 cy=585.5 r=3 /><circle class=n cx=562.6 cy=584.6 r=3 /><circle class=n cx=533.0 cy=596.2 r=3 /><circle class=n cx=548.9 cy=592.2 r=3 /><circle class=n cx=555.8 cy=589.5 r=3 /><circle class=n cx=533.8 cy=596.0 r=3 /><circle class=n cx=535.1 cy=595.3 r=3 /><circle class=n cx=550.5 cy=591.1 r=3 /><circle class=n cx=540.2 cy=594.5 r=3 /><circle class=n cx=564.2 cy=585.3 r=3 /><circle class=n cx=545.0 cy=593.1 r=3 /><circle class=n cx=554.2 cy=590.3 r=3 /><circle class=n cx=538.2 cy=594.6 r=3 /><circle class=n cx=556.2 cy=588.9 r=3 /><circle class=n cx=564.5 cy=585.4 r=3 /><circle class=n cx=560.0 cy=586.6 r=3 /><circle class=n cx=558.3 cy=588.5 r=3 /><circle class=n cx=535.1 cy=595.8 r=3 /><circle class=n cx=559.2 cy=588.7 r=3 /><circle class=n cx=531.8 cy=596.4 r=3 /><circle class=n cx=528.4 cy=596.8 r=3 /><circle class=n cx=551.4 cy=591.5 r=3 /><circle class=n cx=542.8 cy=593.9 r=3 /><circle class=n cx=545.8 cy=592.5 r=3 /><circle class=n cx=549.9 cy=591.2 r=3 /><circle class=n cx=545.0 cy=593.3 r=3 /><circle class=n cx=532.4 cy=596.0 r=3 /><circle class=n cx=534.9 cy=595.6 r=3 /><circle class=n cx=531.7 cy=596.1 r=3 /><circle class=n cx=545.2 cy=592.6 r=3 /><circle class=n cx=540.7 cy=594.3 r=3 /><circle class=n cx=551.5 cy=591.4 r=3 /><circle class=n cx=551.0 cy=590.9 r=3 /><circle class=n cx=556.8 cy=589.1 r=3 /><circle class=n cx=542.9 cy=593.5 r=3 /><circle class=n cx=562.1 cy=585.9 r=3 /><circle class=n cx=527.3 cy=597.1 r=3 /><circle class=n cx=560.5 cy=587.9 r=3 /><circle class=n cx=532.6 cy=596.0 r=3 /><circle class=n cx=540.1 cy=594.2 r=3 /><circle class=n cx=540.1 cy=594.5 r=3 /><circle class=n cx=529.4 cy=597.0 r=3 /><circle class=n cx=550.5 cy=591.4 r=3 /><circle class=n cx=535.2 cy=595.5 r=3 /><circle class=n cx=544.8 cy=593.2 r=3 /><circle class=n cx=541.2 cy=594.3 r=3 /><circle class=n cx=538.7 cy=594.7 r=3 /><circle class=n cx=538.7 cy=594.8 r=3 /><circle class=n cx=543.0 cy=593.5 r=3 /><circle class=n cx=547.6 cy=592.4 r=3 /><circle class=n cx=539.1 cy=594.9 r=3 /><circle class=n cx=543.2 cy=593.3 r=3 /><circle class=n cx=550.1 cy=591.6 r=3 /><circle class=n cx=537.3 cy=594.9 r=3 /><circle class=n cx=532.5 cy=596.3 r=3 /><circle class=n cx=558.2 cy=588.7 r=3 /><circle class=n cx=534.4 cy=595.8 r=3 /><circle class=n cx=545.9 cy=592.5 r=3 /><circle class=n cx=533.1 cy=596.2 r=3 /><circle class=n cx=541.3 cy=594.1 r=3 /><circle class=n cx=544.2 cy=593.3 r=3 /><circle class=n cx=548.4 cy=591.9 r=3 /><circle class=n cx=539.6 cy=594.8 r=3 /><circle class=n cx=527.8 cy=597.1 r=3 /><circle class=n cx=548.2 cy=592.0 r=3 /><circle class=n cx=556.4 cy=590.0 r=3 /><circle class=n cx=552.3 cy=590.5 r=3 /><circle class=n cx=533.5 cy=595.7 r=3 /><circle class=n cx=556.8 cy=588.7 r=3 /><circle class=n cx=552.7 cy=591.3 r=3 /><circle class=n cx=539.3 cy=594.5 r=3 /><circle class=n cx=532.1 cy=596.3 r=3 /><circle class=n cx=546.0 cy=592.7 r=3 /><circle class=n cx=552.6 cy=590.6 r=3 /><circle class=n cx=530.5 cy=596.5 r=3 /><circle class=n cx=527.6 cy=597.3 r=3 /><circle class=n cx=560.0 cy=586.6 r=3 /><circle class=n cx=554.3 cy=590.6 r=3 /><circle class=n cx=543.3 cy=593.5 r=3 /><circle class=n cx=551.0 cy=591.8 r=3 /><circle class=n cx=535.6 cy=595.4 r=3 /><circle class=n cx=560.5 cy=586.7 r=3 /><circle class=n cx=528.7 cy=596.9 r=3 /><circle class=n cx=529.5 cy=596.6 r=3 /><circle class=n cx=556.0 cy=590.0 r=3 /><circle class=n cx=556.2 cy=588.8 r=3 /><circle class=n cx=547.5 cy=592.6 r=3 /><circle class=n cx=541.6 cy=594.0 r=3 /><circle class=n cx=531.6 cy=596.2 r=3 /><circle class=n cx=548.3 cy=591.8 r=3 /><circle class=n cx=548.8 cy=592.2 r=3 /><circle class=n cx=532.6 cy=596.2 r=3 /><circle class=n cx=541.5 cy=593.6 r=3 /><circle class=n cx=536.2 cy=595.2 r=3 /><circle class=n cx=545.8 cy=593.1 r=3 /><circle class=n cx=560.5 cy=586.4 r=3 /><circle class=n cx=542.2 cy=593.5 r=3 /><circle class=n cx=555.4 cy=590.0 r=3 /><circle class=n cx=534.1 cy=596.1 r=3 /><circle class=n cx=545.2 cy=593.0 r=3 /><circle class=n cx=555.9 cy=589.6 r=3 /><circle class=n cx=540.7 cy=594.1 r=3 /><circle class=n cx=528.1 cy=597.1 r=3 /><circle class=n cx=555.3 cy=589.4 r=3 /><circle class=n cx=555.9 cy=589.5 r=3 /><circle class=n cx=531.8 cy=596.5 r=3 /><circle class=n cx=557.1 cy=588.5 r=3 /><circle class=n cx=544.5 cy=593.5 r=3 /><circle class=n cx=540.8 cy=594.1 r=3 /><circle class=n cx=527.4 cy=597.3 r=3 /><circle class=n cx=538.0 cy=595.1 r=3 /><circle class=n cx=555.2 cy=589.5 r=3 /><circle class=n cx=544.8 cy=593.4 r=3 /><circle class=n cx=565.0 cy=584.8 r=3 /><circle class=n cx=532.0 cy=596.1 r=3 /><circle class=n cx=548.8 cy=591.8 r=3 /><circle class=n cx=554.9 cy=590.5 r=3 /><circle class=n cx=537.9 cy=595.0 r=3 /><circle class=n cx=561.9 cy=585.7 r=3 /><circle class=n cx=550.5 cy=591.2 r=3 /><circle class=n cx=530.1 cy=596.6 r=3 /><circle class=n cx=540.4 cy=594.4 r=3 /><circle class=n cx=547.5 cy=591.9 r=3 /><circle class=n cx=536.1 cy=595.5 r=3 /><circle class=n cx=536.9 cy=595.4 r=3 /><circle class=n cx=558.9 cy=589.1 r=3 /><circle class=n cx=557.6 cy=588.8 r=3 /><circle class=n cx=537.9 cy=595.3 r=3 /><circle class=n cx=549.8 cy=591.9 r=3 /><circle class=n cx=528.7 cy=596.9 r=3 /><circle class=n cx=540.6 cy=594.2 r=3 /><circle class=n cx=560.7 cy=586.9 r=3 /><circle class=n cx=538.9 cy=594.8 r=3 /><circle class=n cx=542.3 cy=593.9 r=3 /><circle class=n cx=539.1 cy=594.5 r=3 /><circle class=n cx=543.1 cy=593.3 r=3 /><circle class=n cx=531.8 cy=596.2 r=3 /><circle class=n cx=540.0 cy=594.6 r=3 /><circle class=n cx=532.9 cy=596.1 r=3 /><circle class=n cx=559.0 cy=588.5 r=3 /><circle class=n cx=561.8 cy=586.0 r=3 /><circle class=n cx=536.3 cy=595.1 r=3 /><circle class=n cx=548.2 cy=591.8 r=3 /><circle class=n cx=544.5 cy=593.1 r=3 /><circle class=n cx=547.2 cy=592.2 r=3 /><circle class=n cx=564.9 cy=585.0 r=3 /><circle class=n cx=552.9 cy=591.4 r=3 /><circle class=n cx=560.4 cy=587.9 r=3 /><circle class=n cx=552.1 cy=591.0 r=3 /><circle class=n cx=533.1 cy=596.0 r=3 /><circle class=n cx=561.7 cy=586.8 r=3 /><circle class=n cx=546.8 cy=592.7 r=3 /><circle class=n cx=563.0 cy=585.2 r=3 /><circle class=n cx=546.8 cy=592.2 r=3 /><circle class=n cx=560.1 cy=588.3 r=3 /><circle class=n cx=550.5 cy=590.8 r=3 /><circle class=n cx=352.6 cy=594.7 r=3 /><circle class=n cx=369.9 cy=593.8 r=3 /><circle class=n cx=352.8 cy=588.2 r=3 /><circle class=n cx=354.0 cy=585.3 r=3 /><circle class=n cx=352.3 cy=593.0 r=3 /><circle class=n cx=344.5 cy=592.3 r=3 /><circle class=n cx=355.1 cy=593.5 r=3 /><circle class=n cx=344.5 cy=582.4 r=3 /><circle class=n cx=377.4 cy=599.9 r=3 /><circle class=n cx=361.9 cy=597.3 r=3 /><circle class=n cx=371.4 cy=595.2 r=3 /><circle class=n cx=347.9 cy=583.8 r=3 /><circle class=n cx=373.3 cy=593.7 r=3 /><circle class=n cx=371.2 cy=598.3 r=3 /><circle class=n cx=366.2 cy=600.5 r=3 /><circle class=n cx=381.0 cy=595.8 r=3 /><circle class=n cx=377.1 cy=597.4 r=3 /><circle class=n cx=371.9 cy=597.9 r=3 /><circle class=n cx=390.2 cy=594.6 r=3 /><circle class=n cx=359.9 cy=599.2 r=3 /><circle class=n cx=358.5 cy=598.3 r=3 /><circle class=n cx=371.8 cy=599.7 r=3 /><circle class=n cx=346.2 cy=578.4 r=3 /><circle class=n cx=398.2 cy=582.5 r=3 /><circle class=n cx=358.6 cy=596.4 r=3 /><circle class=n cx=381.5 cy=594.5 r=3 /><circle class=n cx=346.1 cy=596.2 r=3 /><circle class=n cx=378.8 cy=597.1 r=3 /><circle class=n cx=376.0 cy=596.4 r=3 /><circle class=n cx=361.3 cy=598.8 r=3 /><circle class=n cx=384.9 cy=589.2 r=3 /><circle class=n cx=353.7 cy=588.9 r=3 /><circle class=n cx=363.0 cy=595.8 r=3 /><circle class=n cx=340.6 cy=590.1 r=3 /><circle class=n cx=357.2 cy=594.0 r=3 /><circle class=n cx=354.4 cy=592.9 r=3 /><circle class=n cx=362.2 cy=599.9 r=3 /><circle class=n cx=358.5 cy=597.3 r=3 /><circle class=n cx=374.0 cy=594.8 r=3 /><circle class=n cx=391.1 cy=588.1 r=3 /><circle class=n cx=346.2 cy=594.8 r=3 /><circle class=n cx=356.7 cy=590.8 r=3 /><circle class=n cx=381.2 cy=586.3 r=3 /><circle class=n cx=373.6 cy=598.8 r=3 /><circle class=n cx=356.0 cy=599.9 r=3 /><circle class=n cx=358.2 cy=583.5 r=3 /><circle class=n cx=373.5 cy=598.6 r=3 /><circle class=n cx=374.5 cy=593.2 r=3 /><circle class=n cx=389.8 cy=584.4 r=3 /><circle class=n cx=350.2 cy=597.7 r=3 /><circle class=n cx=376.2 cy=582.6 r=3 /><circle class=n cx=338.1 cy=587.8 r=3 /><circle class=n cx=361.4 cy=598.4 r=3 /><circle class=n cx=382.3 cy=599.0 r=3 /><circle class=n cx=392.4 cy=589.5 r=3 /><circle class=n cx=394.5 cy=592.3 r=3 /><circle class=n cx=379.4 cy=596.2 r=3 /><circle class=n cx=384.1 cy=597.9 r=3 /><circle class=n cx=382.5 cy=578.1 r=3 /><circle class=n cx=391.9 cy=582.9 r=3 /><circle class=n cx=349.6 cy=597.5 r=3 /><circle class=n cx=367.1 cy=600.6 r=3 /><circle class=n cx=365.1 cy=596.5 r=3 /><circle class=n cx=358.4 cy=600.0 r=3 /><circle class=n cx=374.0 cy=600.1 r=3 /><circle class=n cx=398.0 cy=585.4 r=3 /><circle class=n cx=360.3 cy=584.6 r=3 /><circle class=n cx=371.7 cy=600.4 r=3 /><circle class=n cx=361.0 cy=599.0 r=3 /><circle class=n cx=391.6 cy=585.7 r=3 /><circle class=n cx=364.1 cy=598.4 r=3 /><circle class=n cx=351.8 cy=594.9 r=3 /><circle class=n cx=353.2 cy=590.9 r=3 /><circle class=n cx=358.1 cy=588.1 r=3 /><circle class=n cx=383.5 cy=586.8 r=3 /><circle class=n cx=388.1 cy=591.2 r=3 /><circle class=n cx=359.2 cy=599.0 r=3 /><circle class=n cx=362.3 cy=599.3 r=3 /><circle class=n cx=389.0 cy=588.0 r=3 /><circle class=n cx=346.1 cy=593.8 r=3 /><circle class=n cx=365.3 cy=600.3 r=3 /><circle class=n cx=382.4 cy=591.9 r=3 /><circle class=n cx=382.6 cy=583.0 r=3 /><circle class=n cx=344.2 cy=589.8 r=3 /><circle class=n cx=348.3 cy=582.4 r=3 /><circle class=n cx=361.5 cy=596.0 r=3 /><circle class=n cx=342.4 cy=582.6 r=3 /><circle class=n cx=361.1 cy=592.6 r=3 /><circle class=n cx=362.5 cy=599.1 r=3 /><circle class=n cx=369.0 cy=598.7 r=3 /><circle class=n cx=338.2 cy=586.0 r=3 /><circle class=n cx=387.5 cy=595.8 r=3 /><circle class=n cx=335.9 cy=578.9 r=3 /><circle class=n cx=352.3 cy=597.3 r=3 /><circle class=n cx=344.7 cy=593.7 r=3 /><circle class=n cx=353.8 cy=596.8 r=3 /><circle class=n cx=350.8 cy=597.9 r=3 /><circle class=n cx=367.1 cy=598.0 r=3 /><circle class=n cx=382.5 cy=595.1 r=3 /><circle class=n cx=374.2 cy=599.1 r=3 /><circle class=n cx=376.3 cy=594.8 r=3 /><circle class=n cx=376.4 cy=596.4 r=3 /><circle class=n cx=384.3 cy=593.0 r=3 /><circle class=n cx=340.1 cy=591.0 r=3 /><circle class=n cx=350.6 cy=581.1 r=3 /><circle class=n cx=377.4 cy=598.3 r=3 /><circle class=n cx=345.2 cy=576.2 r=3 /><circle class=n cx=357.5 cy=599.7 r=3 /><circle class=n cx=363.9 cy=598.6 r=3 /><circle class=n cx=363.5 cy=599.1 r=3 /><circle class=n cx=378.3 cy=583.5 r=3 /><circle class=n cx=376.4 cy=589.0 r=3 /><circle class=n cx=362.3 cy=597.4 r=3 /><circle class=n cx=381.3 cy=593.4 r=3 /><circle class=n cx=338.9 cy=580.6 r=3 /><circle class=n cx=351.9 cy=590.1 r=3 /><circle class=n cx=372.2 cy=599.8 r=3 /><circle class=n cx=376.3 cy=597.6 r=3 /><circle class=n cx=351.0 cy=593.6 r=3 /><circle class=n cx=375.7 cy=599.3 r=3 /><circle class=n cx=371.5 cy=597.5 r=3 /><circle class=n cx=359.6 cy=596.6 r=3 /><circle class=n cx=382.9 cy=589.8 r=3 /><circle class=n cx=362.0 cy=599.6 r=3 /><circle class=n cx=389.7 cy=590.0 r=3 /><circle class=n cx=380.1 cy=599.4 r=3 /><circle class=n cx=387.4 cy=583.5 r=3 /><circle class=n cx=371.8 cy=583.2 r=3 /><circle class=n cx=358.4 cy=599.7 r=3 /><circle class=n cx=374.5 cy=587.6 r=3 /><circle class=n cx=342.2 cy=590.4 r=3 /><circle class=n cx=371.2 cy=591.4 r=3 /><circle class=n cx=348.5 cy=594.2 r=3 /><circle class=n cx=376.4 cy=598.0 r=3 /><circle class=n cx=364.1 cy=600.3 r=3 /><circle class=n cx=381.4 cy=586.7 r=3 /><circle class=n cx=358.8 cy=599.8 r=3 /><circle class=n cx=378.9 cy=593.3 r=3 /><circle class=n cx=347.3 cy=594.2 r=3 /><circle class=n cx=388.3 cy=592.6 r=3 /><circle class=n cx=385.1 cy=582.3 r=3 /><circle class=n cx=350.6 cy=588.3 r=3 /><circle class=n cx=374.0 cy=600.3 r=3 /><circle class=n cx=371.9 cy=600.1 r=3 /><circle class=n cx=397.8 cy=589.4 r=3 /><circle class=n cx=388.5 cy=587.4 r=3 /><circle class=n cx=359.0 cy=586.7 r=3 /><circle class=n cx=344.9 cy=591.5 r=3 /><circle class=n cx=360.1 cy=599.3 r=3 /><circle class=n cx=369.2 cy=597.5 r=3 /><circle class=n cx=380.3 cy=593.8 r=3 /><circle class=n cx=358.5 cy=597.8 r=3 /><circle class=n cx=375.8 cy=599.1 r=3 /><circle class=n cx=374.6 cy=597.7 r=3 /><circle class=n cx=386.9 cy=595.1 r=3 /><circle class=n cx=361.2 cy=599.7 r=3 /><circle class=n cx=392.6 cy=585.0 r=3 /><circle class=n cx=395.5 cy=588.6 r=3 /><circle class=n cx=369.0 cy=599.7 r=3 /><circle class=n cx=384.6 cy=598.5 r=3 /><circle class=n cx=357.0 cy=594.6 r=3 /><circle class=n cx=346.6 cy=591.6 r=3 /><circle class=n cx=371.9 cy=599.6 r=3 /><circle class=n cx=375.0 cy=596.6 r=3 /><circle class=n cx=359.4 cy=600.3 r=3 /><circle class=n cx=351.8 cy=598.2 r=3 /><circle class=n cx=345.9 cy=578.5 r=3 /><circle class=n cx=347.3 cy=594.4 r=3 /><circle class=n cx=367.1 cy=600.2 r=3 /><circle class=n cx=365.2 cy=600.0 r=3 /><circle class=n cx=370.1 cy=595.8 r=3 /><circle class=n cx=382.6 cy=598.0 r=3 /><circle class=n cx=339.9 cy=582.1 r=3 /><circle class=n cx=386.5 cy=591.9 r=3 /><circle class=n cx=351.8 cy=595.8 r=3 /><circle class=n cx=350.5 cy=594.1 r=3 /><circle class=n cx=378.3 cy=598.7 r=3 /><circle class=n cx=373.2 cy=592.6 r=3 /><circle class=n cx=392.7 cy=589.6 r=3 /><circle class=n cx=347.3 cy=582.1 r=3 /><circle class=n cx=369.6 cy=599.8 r=3 /><circle class=n cx=372.7 cy=599.0 r=3 /><circle class=n cx=355.1 cy=580.1 r=3 /><circle class=n cx=363.6 cy=595.5 r=3 /><circle class=n cx=375.7 cy=599.4 r=3 /><circle class=n cx=353.6 cy=595.3 r=3 /><circle class=n cx=384.2 cy=584.0 r=3 /><circle class=n cx=360.1 cy=598.3 r=3 /><circle class=n cx=377.0 cy=596.5 r=3 /><circle class=n cx=356.0 cy=583.3 r=3 /><circle class=n cx=354.5 cy=582.5 r=3 /><circle class=n cx=377.2 cy=598.1 r=3 /><circle class=n cx=373.3 cy=587.1 r=3 /><circle class=n cx=370.3 cy=598.9 r=3 /><circle class=n cx=374.5 cy=586.9 r=3 /><circle class=n cx=361.6 cy=599.8 r=3 /><circle class=n cx=358.5 cy=593.1 r=3 /><circle class=n cx=341.8 cy=587.1 r=3 /><circle class=n cx=374.3 cy=583.5 r=3 /><circle class=n cx=340.3 cy=581.6 r=3 /><circle class=n cx=381.8 cy=596.4 r=3 /><circle class=n cx=354.8 cy=596.0 r=3 /><circle class=n cx=351.4 cy=578.2 r=3 /><circle class=n cx=388.9 cy=591.8 r=3 /><circle class=n cx=374.5 cy=598.8 r=3 /><circle class=n cx=382.6 cy=597.6 r=3 /><circle class=n cx=372.7 cy=598.7 r=3 /><circle class=n cx=380.0 cy=591.3 r=3 /><circle class=n cx=374.5 cy=576.9 r=3 /><circle class=n cx=357.3 cy=583.0 r=3 /><circle class=n cx=384.5 cy=577.5 r=3 /><circle class=n cx=376.7 cy=595.7 r=3 /><circle class=n cx=344.7 cy=591.0 r=3 /><circle class=n cx=356.9 cy=599.0 r=3 /><circle class=n cx=357.5 cy=592.4 r=3 /><circle class=n cx=339.3 cy=585.9 r=3 /><circle class=n cx=342.8 cy=592.2 r=3 /><circle class=n cx=373.0 cy=600.3 r=3 /><circle class=n cx=360.8 cy=597.0 r=3 /><circle class=n cx=357.4 cy=595.4 r=3 /><circle class=n cx=381.3 cy=581.0 r=3 /><circle class=n cx=357.0 cy=592.1 r=3 /><circle class=n cx=367.1 cy=598.4 r=3 /><circle class=n cx=391.9 cy=591.8 r=3 /><circle class=n cx=381.8 cy=597.7 r=3 /><circle class=n cx=396.0 cy=583.3 r=3 /><circle class=n cx=377.4 cy=585.1 r=3 /><circle class=n cx=353.9 cy=592.9 r=3 /><circle class=n cx=352.8 cy=586.5 r=3 /><circle class=n cx=379.4 cy=597.3 r=3 /><circle class=n cx=377.9 cy=594.0 r=3 /><circle class=n cx=348.1 cy=593.1 r=3 /><circle class=n cx=386.7 cy=588.9 r=3 /><circle class=n cx=363.9 cy=600.4 r=3 /><circle class=n cx=348.4 cy=593.0 r=3 /><circle class=n cx=358.3 cy=590.5 r=3 /><circle class=n cx=374.8 cy=596.8 r=3 /><circle class=n cx=356.9 cy=593.2 r=3 /><circle class=n cx=388.4 cy=578.2 r=3 /><circle class=n cx=381.3 cy=588.2 r=3 /><circle class=n cx=381.9 cy=595.3 r=3 /><circle class=n cx=359.4 cy=598.3 r=3 /><circle class=n cx=361.9 cy=599.6 r=3 /><circle class=n cx=353.2 cy=593.5 r=3 /><circle class=n cx=386.3 cy=593.5 r=3 /><circle class=n cx=394.9 cy=588.7 r=3 /><circle class=n cx=369.1 cy=597.6 r=3 /><circle class=n cx=382.6 cy=595.0 r=3 /><circle class=n cx=347.3 cy=588.5 r=3 /><circle class=n cx=353.4 cy=597.8 r=3 /><circle class=n cx=349.1 cy=589.1 r=3 /><circle class=n cx=379.8 cy=593.6 r=3 /><circle class=n cx=384.0 cy=597.1 r=3 /><circle class=n cx=383.0 cy=594.8 r=3 /><circle class=n cx=353.8 cy=584.0 r=3 /><circle class=n cx=347.4 cy=587.3 r=3 /><circle class=n cx=362.5 cy=599.4 r=3 /><circle class=n cx=379.3 cy=597.7 r=3 /><circle class=n cx=356.5 cy=596.6 r=3 /><circle class=n cx=387.2 cy=587.9 r=3 /><circle class=n cx=369.4 cy=597.7 r=3 /><circle class=n cx=361.3 cy=598.9 r=3 /><circle class=n cx=360.0 cy=579.8 r=3 /><circle class=n cx=358.3 cy=599.5 r=3 /><circle class=n cx=378.0 cy=596.7 r=3 /><circle class=n cx=374.6 cy=600.2 r=3 /><circle class=n cx=359.1 cy=599.6 r=3 /><circle class=n cx=387.6 cy=581.7 r=3 /><circle class=n cx=383.1 cy=595.4 r=3 /><circle class=n cx=371.6 cy=599.1 r=3 /><circle class=n cx=349.0 cy=592.9 r=3 /><circle class=n cx=358.3 cy=599.7 r=3 /><circle class=n cx=351.3 cy=598.3 r=3 /><circle class=n cx=373.0 cy=592.2 r=3 /><circle class=n cx=389.4 cy=584.4 r=3 /><circle class=n cx=371.2 cy=589.0 r=3 /><circle class=n cx=363.2 cy=596.8 r=3 /><circle class=n cx=353.9 cy=592.4 r=3 /><circle class=n cx=375.1 cy=587.1 r=3 /><circle class=n cx=379.2 cy=598.2 r=3 /><circle class=n cx=370.9 cy=599.8 r=3 /><circle class=n cx=373.9 cy=600.0 r=3 /><circle class=n cx=360.2 cy=587.8 r=3 /><circle class=n cx=399.3 cy=586.3 r=3 /><circle class=n cx=345.0 cy=593.1 r=3 /><circle class=n cx=353.0 cy=580.8 r=3 /><circle class=n cx=356.9 cy=594.6 r=3 /><circle class=n cx=347.4 cy=583.4 r=3 /><circle class=n cx=369.2 cy=600.5 r=3 /><circle class=n cx=369.6 cy=596.5 r=3 /><circle class=n cx=375.8 cy=597.6 r=3 /><circle class=n cx=357.5 cy=595.8 r=3 /><circle class=n cx=352.2 cy=597.4 r=3 /><circle class=n cx=359.3 cy=591.0 r=3 /><circle class=n cx=368.8 cy=599.0 r=3 /><circle class=n cx=367.8 cy=600.3 r=3 /><circle class=n cx=368.0 cy=600.5 r=3 /><circle class=n cx=382.2 cy=595.9 r=3 /><circle class=n cx=363.5 cy=595.0 r=3 /><circle class=n cx=380.1 cy=591.5 r=3 /><circle class=n cx=355.4 cy=594.6 r=3 /><circle class=n cx=392.4 cy=591.2 r=3 /><circle class=n cx=372.0 cy=595.9 r=3 /><circle class=n cx=374.5 cy=589.2 r=3 /><circle class=n cx=344.4 cy=587.5 r=3 /><circle class=n cx=367.4 cy=595.0 r=3 /><circle class=n cx=383.5 cy=596.9 r=3 /><circle class=n cx=364.6 cy=598.6 r=3 /><circle class=n cx=382.2 cy=591.5 r=3 /><circle class=n cx=383.4 cy=595.9 r=3 /><circle class=n cx=375.0 cy=581.4 r=3 /><circle class=n cx=354.3 cy=586.6 r=3 /><circle class=n cx=372.4 cy=591.9 r=3 /><circle class=n cx=381.0 cy=594.2 r=3 /><circle class=n cx=373.5 cy=578.0 r=3 /><circle class=n cx=356.6 cy=599.2 r=3 /><circle class=n cx=354.9 cy=584.5 r=3 /><circle class=n cx=366.3 cy=599.7 r=3 /><circle class=n cx=392.9 cy=594.6 r=3 /><circle class=n cx=385.4 cy=594.7 r=3 /><circle class=n cx=375.8 cy=599.1 r=3 /><circle class=n cx=359.7 cy=600.2 r=3 /><circle class=n cx=356.7 cy=591.6 r=3 /><circle class=n cx=388.0 cy=594.9 r=3 /><circle class=n cx=373.5 cy=599.2 r=3 /><circle class=n cx=362.7 cy=599.3 r=3 /><circle class=n cx=377.7 cy=596.5 r=3 /><circle class=n cx=365.6 cy=597.3 r=3 /><circle class=n cx=374.0 cy=598.7 r=3 /><circle class=n cx=355.9 cy=588.4 r=3 /><circle class=n cx=374.2 cy=600.2 r=3 /><circle class=n cx=359.2 cy=592.8 r=3 /><circle class=n cx=373.8 cy=593.3 r=3 /><circle class=n cx=344.0 cy=578.8 r=3 /><circle class=n cx=360.8 cy=589.9 r=3 /><circle class=n cx=350.8 cy=586.4 r=3 /><circle class=n cx=361.5 cy=595.3 r=3 /><circle class=n cx=372.7 cy=599.4 r=3 /><circle class=n cx=378.0 cy=589.3 r=3 /><circle class=n cx=362.0 cy=598.6 r=3 /><circle class=n cx=356.7 cy=594.7 r=3 /><circle class=n cx=356.1 cy=598.7 r=3 /><circle class=n cx=346.0 cy=592.4 r=3 /><circle class=n cx=356.3 cy=584.4 r=3 /><circle class=n cx=377.9 cy=596.0 r=3 /><circle class=n cx=369.6 cy=599.9 r=3 /><circle class=n cx=385.2 cy=584.3 r=3 /><circle class=n cx=379.9 cy=594.0 r=3 /><circle class=n cx=343.1 cy=592.6 r=3 /><circle class=n cx=391.8 cy=585.8 r=3 /><circle class=n cx=358.5 cy=597.3 r=3 /><circle class=n cx=347.7 cy=593.2 r=3 /><circle class=n cx=356.2 cy=590.2 r=3 /><circle class=n cx=369.6 cy=599.9 r=3 /><circle class=n cx=391.5 cy=588.9 r=3 /><circle class=n cx=366.1 cy=600.4 r=3 /><circle class=n cx=384.0 cy=598.1 r=3 /><circle class=n cx=376.5 cy=587.5 r=3 /><circle class=n cx=379.4 cy=581.8 r=3 /><circle class=n cx=349.7 cy=578.1 r=3 /><circle class=n cx=373.6 cy=588.7 r=3 /><circle class=n cx=369.8 cy=596.0 r=3 /><circle class=n cx=384.8 cy=579.7 r=3 /><circle class=n cx=370.8 cy=599.8 r=3 /><circle class=n cx=348.2 cy=596.4 r=3 /><circle class=n cx=351.2 cy=587.7 r=3 /><circle class=n cx=365.1 cy=596.7 r=3 /><circle class=n cx=348.4 cy=595.5 r=3 /><circle class=n cx=383.7 cy=594.3 r=3 /><circle class=n cx=395.4 cy=589.9 r=3 /><circle class=n cx=359.1 cy=598.7 r=3 /><circle class=n cx=370.2 cy=598.9 r=3 /><circle class=n cx=373.1 cy=591.1 r=3 /><circle class=n cx=374.7 cy=593.3 r=3 /><circle class=n cx=373.0 cy=589.9 r=3 /><circle class=n cx=379.0 cy=598.8 r=3 /><circle class=n cx=355.3 cy=590.3 r=3 /><circle class=n cx=378.8 cy=595.3 r=3 /><circle class=n cx=372.2 cy=600.4 r=3 /><circle class=n cx=389.6 cy=593.1 r=3 /><circle class=n cx=380.9 cy=590.8 r=3 /><circle class=n cx=391.8 cy=585.3 r=3 /><circle class=n cx=358.7 cy=597.6 r=3 /><circle class=n cx=357.2 cy=592.2 r=3 /><circle class=n cx=372.3 cy=588.5 r=3 /><circle class=n cx=358.4 cy=600.0 r=3 /><circle class=n cx=390.7 cy=582.2 r=3 /><circle class=n cx=379.7 cy=588.7 r=3 /><circle class=n cx=365.4 cy=600.0 r=3 /><circle class=n cx=358.4 cy=594.7 r=3 /><circle class=n cx=361.7 cy=599.5 r=3 /><circle class=n cx=366.0 cy=600.1 r=3 /><circle class=n cx=347.4 cy=592.4 r=3 /><circle class=n cx=382.7 cy=581.2 r=3 /><circle class=n cx=382.6 cy=585.5 r=3 /><circle class=n cx=377.6 cy=597.0 r=3 /><circle class=n cx=382.0 cy=597.3 r=3 /><circle class=n cx=364.6 cy=595.4 r=3 /><circle class=n cx=369.3 cy=599.8 r=3 /><circle class=n cx=363.7 cy=600.4 r=3 /><circle class=n cx=358.7 cy=594.1 r=3 /><circle class=n cx=380.0 cy=590.8 r=3 /><circle class=n cx=352.4 cy=596.4 r=3 /><circle class=n cx=378.4 cy=596.4 r=3 /><circle class=n cx=357.2 cy=600.1 r=3 /><circle class=n cx=354.1 cy=596.2 r=3 /><circle class=n cx=397.2 cy=586.7 r=3 /><circle class=n cx=398.3 cy=588.7 r=3 /><circle class=n cx=384.2 cy=597.7 r=3 /><circle class=n cx=387.2 cy=593.5 r=3 /><circle class=n cx=355.2 cy=589.8 r=3 /><circle class=n cx=348.1 cy=593.0 r=3 /><circle class=n cx=378.9 cy=597.9 r=3 /><circle class=n cx=379.5 cy=583.6 r=3 /><circle class=n cx=389.3 cy=585.1 r=3 /><circle class=n cx=356.1 cy=599.0 r=3 /><circle class=n cx=383.2 cy=594.7 r=3 /><circle class=n cx=383.0 cy=596.7 r=3 /><circle class=n cx=373.6 cy=597.9 r=3 /><circle class=n cx=354.8 cy=597.1 r=3 /><circle class=n cx=380.7 cy=588.2 r=3 /><circle class=n cx=381.6 cy=589.6 r=3 /><circle class=n cx=341.4 cy=587.1 r=3 /><circle class=n cx=370.8 cy=595.4 r=3 /><circle class=n cx=377.6 cy=592.4 r=3 /><circle class=n cx=389.4 cy=588.9 r=3 /><circle class=n cx=375.4 cy=599.0 r=3 /><circle class=n cx=380.7 cy=598.1 r=3 /><circle class=n cx=382.9 cy=596.5 r=3 /><circle class=n cx=383.8 cy=581.7 r=3 /><circle class=n cx=360.0 cy=599.8 r=3 /><circle class=n cx=338.4 cy=580.9 r=3 /><circle class=n cx=365.0 cy=599.4 r=3 /><circle class=n cx=397.2 cy=576.7 r=3 /><circle class=n cx=387.7 cy=585.6 r=3 /><circle class=n cx=386.8 cy=594.2 r=3 /><circle class=n cx=360.5 cy=594.0 r=3 /><circle class=n cx=372.7 cy=597.0 r=3 /><circle class=n cx=348.8 cy=595.4 r=3 /><circle class=n cx=371.2 cy=597.7 r=3 /><circle class=n cx=374.1 cy=579.8 r=3 /><circle class=n cx=365.3 cy=598.8 r=3 /><circle class=n cx=390.0 cy=591.9 r=3 /><circle class=n cx=346.4 cy=591.3 r=3 /><circle class=n cx=362.6 cy=600.4 r=3 /><circle class=n cx=372.1 cy=598.0 r=3 /><circle class=n cx=381.8 cy=597.3 r=3 /><circle class=n cx=361.9 cy=599.5 r=3 /><circle class=n cx=370.8 cy=599.2 r=3 /><circle class=n cx=389.2 cy=586.8 r=3 /><circle class=n cx=366.1 cy=597.5 r=3 /><circle class=n cx=350.9 cy=588.0 r=3 /><circle class=n cx=357.6 cy=594.1 r=3 /><circle class=n cx=347.0 cy=594.2 r=3 /><circle class=n cx=357.5 cy=598.8 r=3 /><circle class=n cx=353.8 cy=596.5 r=3 /><circle class=n cx=384.3 cy=594.8 r=3 /><circle class=n cx=384.2 cy=588.7 r=3 /><circle class=n cx=359.6 cy=599.7 r=3 /><circle class=n cx=391.5 cy=593.2 r=3 /><circle class=n cx=368.6 cy=600.5 r=3 /><circle class=n cx=347.2 cy=595.6 r=3 /><circle class=n cx=391.4 cy=586.0 r=3 /><circle class=n cx=388.7 cy=586.4 r=3 /><circle class=n cx=355.7 cy=592.4 r=3 /><circle class=n cx=348.0 cy=595.1 r=3 /><circle class=n cx=364.7 cy=600.5 r=3 /><circle class=n cx=361.6 cy=600.4 r=3 /><circle class=n cx=363.5 cy=594.9 r=3 /><circle class=n cx=361.3 cy=598.1 r=3 /><circle class=n cx=347.2 cy=591.4 r=3 /><circle class=n cx=367.0 cy=599.7 r=3 /><circle class=n cx=336.8 cy=586.9 r=3 /><circle class=n cx=347.1 cy=585.1 r=3 /><circle class=n cx=390.3 cy=592.2 r=3 /><circle class=n cx=371.8 cy=599.1 r=3 /><circle class=n cx=375.0 cy=597.4 r=3 /><circle class=n cx=352.4 cy=592.3 r=3 /><circle class=n cx=355.7 cy=595.6 r=3 /><circle class=n cx=368.8 cy=598.5 r=3 /><circle class=n cx=346.0 cy=594.8 r=3 /><circle class=n cx=351.8 cy=595.2 r=3 /><circle class=n cx=365.2 cy=600.0 r=3 /><circle class=n cx=375.0 cy=599.7 r=3 /><circle class=n cx=378.7 cy=598.7 r=3 /><circle class=n cx=374.7 cy=598.2 r=3 /><circle class=n cx=358.3 cy=598.4 r=3 /><circle class=n cx=363.3 cy=598.7 r=3 /><circle class=n cx=343.9 cy=586.0 r=3 /><circle class=n cx=379.4 cy=599.2 r=3 /><circle class=n cx=356.3 cy=576.8 r=3 /><circle class=n cx=346.3 cy=594.2 r=3 /><circle class=n cx=374.8 cy=588.1 r=3 /><circle class=n cx=392.4 cy=581.9 r=3 /><circle class=n cx=363.1 cy=599.4 r=3 /><circle class=n cx=371.8 cy=597.9 r=3 /><circle class=n cx=386.2 cy=578.8 r=3 /><circle class=n cx=375.6 cy=596.9 r=3 /><circle class=n cx=368.9 cy=599.1 r=3 /><circle class=n cx=351.8 cy=589.4 r=3 /><circle class=n cx=379.8 cy=598.7 r=3 /><circle class=n cx=339.1 cy=590.8 r=3 /><circle class=n cx=355.3 cy=589.7 r=3 /><circle class=n cx=347.2 cy=595.6 r=3 /><circle class=n cx=341.8 cy=592.5 r=3 /><circle class=n cx=362.9 cy=598.6 r=3 /><circle class=n cx=354.2 cy=597.0 r=3 /><circle class=n cx=359.2 cy=596.5 r=3 /><circle class=n cx=355.5 cy=597.9 r=3 /><circle class=n cx=370.7 cy=597.4 r=3 /><circle class=n cx=345.9 cy=589.8 r=3 /><circle class=n cx=357.9 cy=596.9 r=3 /><circle class=n cx=373.7 cy=599.9 r=3 /><circle class=n cx=376.4 cy=584.5 r=3 /><circle class=n cx=348.2 cy=595.4 r=3 /><circle class=n cx=356.1 cy=576.8 r=3 /><circle class=n cx=365.4 cy=600.3 r=3 /><circle class=n cx=341.1 cy=587.1 r=3 /><circle class=n cx=383.3 cy=598.5 r=3 /><circle class=n cx=344.5 cy=580.1 r=3 /><circle class=n cx=377.4 cy=598.9 r=3 /><circle class=n cx=359.3 cy=597.8 r=3 /><circle class=n cx=391.6 cy=585.6 r=3 /><circle class=n cx=389.6 cy=593.1 r=3 /><circle class=n cx=355.8 cy=598.7 r=3 /><circle class=n cx=380.0 cy=585.8 r=3 /><circle class=n cx=373.9 cy=595.4 r=3 /><circle class=n cx=357.9 cy=598.5 r=3 /><circle class=n cx=352.4 cy=594.6 r=3 /><circle class=n cx=383.2 cy=584.7 r=3 /><circle class=n cx=354.1 cy=590.2 r=3 /><circle class=n cx=389.4 cy=583.7 r=3 /><circle class=n cx=351.6 cy=595.6 r=3 /><circle class=n cx=358.6 cy=597.8 r=3 /><circle class=n cx=390.4 cy=584.5 r=3 /><circle class=n cx=371.6 cy=597.4 r=3 /><circle class=n cx=392.5 cy=591.5 r=3 /><circle class=n cx=358.2 cy=598.2 r=3 /><circle class=n cx=361.9 cy=600.1 r=3 /><circle class=n cx=372.2 cy=596.8 r=3 /><circle class=n cx=360.8 cy=600.3 r=3 /><circle class=n cx=359.0 cy=592.2 r=3 /><circle class=n cx=345.7 cy=586.7 r=3 /><circle class=n cx=381.3 cy=593.7 r=3 /><circle class=n cx=357.0 cy=596.3 r=3 /><circle class=n cx=376.8 cy=596.1 r=3 /><circle class=n cx=384.2 cy=594.7 r=3 /><circle class=n cx=352.5 cy=596.0 r=3 /><circle class=n cx=392.0 cy=585.5 r=3 /><circle class=n cx=359.0 cy=597.3 r=3 /><circle class=n cx=348.8 cy=580.2 r=3 /><circle class=n cx=363.0 cy=600.0 r=3 /><circle class=n cx=373.5 cy=600.2 r=3 /><circle class=n cx=377.5 cy=599.7 r=3 /><circle class=n cx=345.6 cy=594.2 r=3 /><circle class=n cx=347.6 cy=595.4 r=3 /><circle class=n cx=368.9 cy=598.3 r=3 /><circle class=n cx=350.5 cy=594.1 r=3 /><circle class=n cx=357.6 cy=599.5 r=3 /><circle class=n cx=349.7 cy=597.8 r=3 /><circle class=n cx=361.7 cy=599.5 r=3 /><circle class=n cx=349.0 cy=586.9 r=3 /><circle class=n cx=353.6 cy=595.2 r=3 /><circle class=n cx=354.9 cy=595.6 r=3 /><circle class=n cx=382.4 cy=583.7 r=3 /><circle class=n cx=369.6 cy=600.5 r=3 /><circle class=n cx=352.8 cy=596.4 r=3 /><circle class=n cx=387.2 cy=594.4 r=3 /><circle class=n cx=387.9 cy=596.9 r=3 /><circle class=n cx=372.1 cy=593.8 r=3 /><circle class=n cx=360.9 cy=600.4 r=3 /><circle class=n cx=378.7 cy=596.0 r=3 /><circle class=n cx=361.6 cy=588.0 r=3 /><circle class=n cx=378.1 cy=599.5 r=3 /><circle class=n cx=390.9 cy=591.4 r=3 /><circle class=n cx=378.2 cy=595.7 r=3 /><circle class=n cx=388.4 cy=577.2 r=3 /><circle class=n cx=377.6 cy=594.7 r=3 /><circle class=n cx=389.7 cy=593.3 r=3 /><circle class=n cx=353.9 cy=588.7 r=3 /><circle class=n cx=384.4 cy=597.2 r=3 /><circle class=n cx=364.2 cy=600.1 r=3 /><circle class=n cx=380.7 cy=588.0 r=3 /><circle class=n cx=356.7 cy=594.4 r=3 /><circle class=n cx=388.5 cy=589.0 r=3 /><circle class=n cx=372.6 cy=597.9 r=3 /><circle class=n cx=362.0 cy=599.9 r=3 /><circle class=n cx=385.7 cy=585.3 r=3 /><circle class=n cx=363.8 cy=599.5 r=3 /><circle class=n cx=391.9 cy=592.2 r=3 /><circle class=n cx=358.2 cy=596.8 r=3 /><circle class=n cx=354.3 cy=594.4 r=3 /><circle class=n cx=353.1 cy=597.0 r=3 /><circle class=n cx=376.4 cy=596.8 r=3 /><circle class=n cx=369.4 cy=596.3 r=3 /><circle class=n cx=364.8 cy=598.8 r=3 /><circle class=n cx=369.0 cy=596.8 r=3 /><circle class=n cx=372.7 cy=598.3 r=3 /><circle class=n cx=382.9 cy=597.7 r=3 /><circle class=n cx=372.8 cy=595.9 r=3 /><circle class=n cx=357.1 cy=599.7 r=3 /><circle class=n cx=365.2 cy=596.3 r=3 /><circle class=n cx=354.8 cy=582.4 r=3 /><circle class=n cx=358.4 cy=593.7 r=3 /><circle class=n cx=363.0 cy=599.2 r=3 /><circle class=n cx=355.8 cy=592.3 r=3 /><circle class=n cx=379.6 cy=590.6 r=3 /><circle class=n cx=353.4 cy=598.7 r=3 /><circle class=n cx=348.8 cy=591.5 r=3 /><circle class=n cx=352.2 cy=589.9 r=3 /><circle class=n cx=394.5 cy=592.0 r=3 /><circle class=n cx=343.5 cy=593.0 r=3 /><circle class=n cx=373.0 cy=596.9 r=3 /><circle class=n cx=354.2 cy=593.9 r=3 /><circle class=n cx=373.6 cy=587.0 r=3 /><circle class=n cx=373.3 cy=595.4 r=3 /><circle class=n cx=359.0 cy=595.4 r=3 /><circle class=n cx=375.3 cy=593.0 r=3 /><circle class=n cx=374.2 cy=598.3 r=3 /><circle class=n cx=367.5 cy=599.3 r=3 /><circle class=n cx=347.4 cy=586.1 r=3 /><circle class=n cx=367.3 cy=599.1 r=3 /><circle class=n cx=349.8 cy=588.6 r=3 /><circle class=n cx=373.7 cy=593.4 r=3 /><circle class=n cx=343.4 cy=586.7 r=3 /><circle class=n cx=391.4 cy=580.3 r=3 /><circle class=n cx=390.2 cy=592.4 r=3 /><circle class=n cx=346.6 cy=586.6 r=3 /><circle class=n cx=355.1 cy=594.5 r=3 /><circle class=n cx=379.0 cy=597.6 r=3 /><circle class=n cx=366.9 cy=598.7 r=3 /><circle class=n cx=344.6 cy=582.7 r=3 /><circle class=n cx=343.9 cy=594.4 r=3 /><circle class=n cx=367.2 cy=600.1 r=3 /><circle class=n cx=376.7 cy=599.6 r=3 /><circle class=n cx=348.6 cy=595.4 r=3 /><circle class=n cx=354.3 cy=590.7 r=3 /><circle class=n cx=351.8 cy=595.0 r=3 /><circle class=n cx=354.0 cy=596.9 r=3 /><circle class=n cx=374.0 cy=598.5 r=3 /><circle class=n cx=384.6 cy=596.4 r=3 /><circle class=n cx=388.8 cy=589.3 r=3 /><circle class=n cx=361.8 cy=595.8 r=3 /><circle class=n cx=392.3 cy=590.0 r=3 /><circle class=n cx=352.1 cy=596.2 r=3 /><circle class=n cx=350.2 cy=586.2 r=3 /><circle class=n cx=354.6 cy=597.2 r=3 /><circle class=n cx=385.0 cy=590.2 r=3 /><circle class=n cx=353.5 cy=594.8 r=3 /><circle class=n cx=401.0 cy=581.3 r=3 /><circle class=n cx=352.6 cy=595.5 r=3 /><circle class=n cx=384.6 cy=581.5 r=3 /><circle class=n cx=384.0 cy=584.7 r=3 /><circle class=n cx=374.8 cy=584.6 r=3 /><circle class=n cx=393.4 cy=587.8 r=3 /><circle class=n cx=390.8 cy=590.7 r=3 /><circle class=n cx=377.4 cy=589.6 r=3 /><circle class=n cx=339.6 cy=591.5 r=3 /><circle class=n cx=373.0 cy=600.2 r=3 /><circle class=n cx=381.0 cy=596.4 r=3 /><circle class=n cx=357.5 cy=599.9 r=3 /><circle class=n cx=378.1 cy=592.8 r=3 /><circle class=n cx=361.8 cy=595.8 r=3 /><circle class=n cx=350.9 cy=595.6 r=3 /><circle class=n cx=357.2 cy=588.0 r=3 /><circle class=n cx=347.2 cy=591.9 r=3 /><circle class=n cx=380.5 cy=592.9 r=3 /><circle class=n cx=369.3 cy=597.6 r=3 /><circle class=n cx=346.3 cy=587.3 r=3 /><circle class=n cx=371.1 cy=598.7 r=3 /><circle class=n cx=353.7 cy=597.8 r=3 /><circle class=n cx=361.0 cy=596.4 r=3 /><circle class=n cx=385.2 cy=597.7 r=3 /><circle class=n cx=361.7 cy=594.5 r=3 /><circle class=n cx=368.4 cy=596.8 r=3 /><circle class=n cx=356.3 cy=596.8 r=3 /><circle class=n cx=359.5 cy=597.7 r=3 /><circle class=n cx=355.3 cy=593.7 r=3 /><circle class=n cx=393.0 cy=591.4 r=3 /><circle class=n cx=373.5 cy=600.4 r=3 /><circle class=n cx=359.4 cy=590.1 r=3 /><circle class=n cx=356.4 cy=599.7 r=3 /><circle class=n cx=375.7 cy=588.4 r=3 /><circle class=n cx=381.9 cy=599.1 r=3 /><circle class=n cx=363.5 cy=596.9 r=3 /><circle class=n cx=382.3 cy=578.6 r=3 /><circle class=n cx=382.8 cy=594.6 r=3 /><circle class=n cx=381.0 cy=592.6 r=3 /><circle class=n cx=351.3 cy=596.9 r=3 /><circle class=n cx=387.3 cy=592.9 r=3 /><circle class=n cx=365.1 cy=600.5 r=3 /><circle class=n cx=372.5 cy=596.9 r=3 /><circle class=n cx=360.5 cy=599.7 r=3 /><circle class=n cx=356.6 cy=589.2 r=3 /><circle class=n cx=391.1 cy=578.0 r=3 /><circle class=n cx=365.3 cy=598.9 r=3 /><circle class=n cx=372.8 cy=594.1 r=3 /><circle class=n cx=375.8 cy=592.4 r=3 /><circle class=n cx=382.4 cy=598.8 r=3 /><circle class=n cx=340.1 cy=588.5 r=3 /><circle class=n cx=368.2 cy=594.9 r=3 /><circle class=n cx=391.5 cy=591.7 r=3 /><circle class=n cx=370.4 cy=597.3 r=3 /><circle class=n cx=347.2 cy=597.5 r=3 /><circle class=n cx=360.2 cy=591.6 r=3 /><circle class=n cx=354.6 cy=584.2 r=3 /><circle class=n cx=379.8 cy=597.8 r=3 /><circle class=n cx=354.4 cy=589.8 r=3 /><circle class=n cx=376.0 cy=590.6 r=3 /><circle class=n cx=368.0 cy=595.2 r=3 /><circle class=n cx=393.5 cy=592.0 r=3 /><circle class=n cx=381.7 cy=582.3 r=3 /><circle class=n cx=354.6 cy=597.2 r=3 /><circle class=n cx=352.1 cy=597.3 r=3 /><circle class=n cx=348.2 cy=586.1 r=3 /><circle class=n cx=366.9 cy=594.9 r=3 /><circle class=n cx=346.8 cy=594.1 r=3 /><circle class=n cx=371.6 cy=592.5 r=3 /><circle class=n cx=365.4 cy=598.3 r=3 /><circle class=n cx=353.0 cy=599.3 r=3 /><circle class=n cx=374.7 cy=599.6 r=3 /><circle class=n cx=367.6 cy=599.6 r=3 /><circle class=n cx=372.9 cy=580.8 r=3 /><circle class=n cx=374.6 cy=599.3 r=3 /><circle class=n cx=395.2 cy=592.0 r=3 /><circle class=n cx=388.5 cy=592.6 r=3 /><circle class=n cx=372.7 cy=599.1 r=3 /><circle class=n cx=343.6 cy=584.6 r=3 /><circle class=n cx=398.3 cy=583.5 r=3 /><circle class=n cx=380.2 cy=596.3 r=3 /><circle class=n cx=365.1 cy=597.8 r=3 /><circle class=n cx=359.9 cy=593.6 r=3 /><circle class=n cx=345.3 cy=577.1 r=3 /><circle class=n cx=368.4 cy=599.2 r=3 /><circle class=n cx=358.5 cy=583.2 r=3 /><circle class=n cx=391.4 cy=594.2 r=3 /><circle class=n cx=392.2 cy=588.8 r=3 /><circle class=n cx=382.7 cy=591.5 r=3 /><circle class=n cx=370.6 cy=592.4 r=3 /><circle class=n cx=381.5 cy=581.1 r=3 /><circle class=n cx=354.5 cy=579.9 r=3 /><circle class=n cx=393.4 cy=591.4 r=3 /><circle class=n cx=376.9 cy=595.8 r=3 /><circle class=n cx=373.8 cy=599.5 r=3 /><circle class=n cx=361.9 cy=600.4 r=3 /><circle class=n cx=367.3 cy=596.4 r=3 /><circle class=n cx=347.9 cy=597.5 r=3 /><circle class=n cx=348.8 cy=589.8 r=3 /><circle class=n cx=376.4 cy=588.5 r=3 /><circle class=n cx=336.7 cy=584.5 r=3 /><circle class=n cx=362.8 cy=595.6 r=3 /><circle class=n cx=352.8 cy=598.1 r=3 /><circle class=n cx=352.4 cy=587.7 r=3 /><circle class=n cx=391.1 cy=594.3 r=3 /><circle class=n cx=349.2 cy=595.2 r=3 /><circle class=n cx=352.1 cy=587.6 r=3 /><circle class=n cx=387.2 cy=594.3 r=3 /><circle class=n cx=345.2 cy=596.4 r=3 /><circle class=n cx=358.0 cy=598.9 r=3 /><circle class=n cx=342.4 cy=584.9 r=3 /><circle class=n cx=364.4 cy=595.9 r=3 /><circle class=n cx=378.0 cy=599.2 r=3 /><circle class=n cx=379.8 cy=582.9 r=3 /><circle class=n cx=369.8 cy=597.4 r=3 /><circle class=n cx=369.5 cy=600.4 r=3 /><circle class=n cx=349.5 cy=598.0 r=3 /><circle class=n cx=375.3 cy=582.2 r=3 /><circle class=n cx=368.5 cy=599.7 r=3 /><circle class=n cx=380.8 cy=595.2 r=3 /><circle class=n cx=356.8 cy=597.6 r=3 /><circle class=n cx=355.3 cy=592.5 r=3 /><circle class=n cx=363.9 cy=595.7 r=3 /><circle class=n cx=359.3 cy=595.5 r=3 /><circle class=n cx=379.8 cy=590.0 r=3 /><circle class=n cx=372.9 cy=599.7 r=3 /><circle class=n cx=370.8 cy=597.6 r=3 /><circle class=n cx=346.3 cy=593.7 r=3 /><circle class=n cx=377.2 cy=597.1 r=3 /><circle class=n cx=347.5 cy=585.0 r=3 /><circle class=n cx=371.3 cy=597.1 r=3 /><circle class=n cx=362.4 cy=600.3 r=3 /><circle class=n cx=365.5 cy=598.9 r=3 /><circle class=n cx=351.8 cy=595.9 r=3 /><circle class=n cx=351.5 cy=582.5 r=3 /><circle class=n cx=373.7 cy=597.6 r=3 /><circle class=n cx=379.9 cy=587.8 r=3 /><circle class=n cx=380.0 cy=589.6 r=3 /><circle class=n cx=376.4 cy=598.3 r=3 /><circle class=n cx=379.5 cy=590.1 r=3 /><circle class=n cx=348.5 cy=585.7 r=3 /><circle class=n cx=365.1 cy=600.5 r=3 /><circle class=n cx=366.2 cy=596.0 r=3 /><circle class=n cx=359.7 cy=600.2 r=3 /><circle class=n cx=381.9 cy=598.9 r=3 /><circle class=n cx=361.6 cy=600.4 r=3 /><circle class=n cx=372.7 cy=596.6 r=3 /><circle class=n cx=376.5 cy=599.4 r=3 /><circle class=n cx=357.2 cy=597.7 r=3 /><circle class=n cx=352.5 cy=592.6 r=3 /><circle class=n cx=376.4 cy=592.0 r=3 /><circle class=n cx=391.9 cy=576.2 r=3 /><circle class=n cx=366.5 cy=600.1 r=3 /><circle class=n cx=371.2 cy=589.3 r=3 /><circle class=n cx=351.0 cy=576.4 r=3 /><circle class=n cx=342.6 cy=591.3 r=3 /><circle class=n cx=377.5 cy=596.4 r=3 /><circle class=n cx=378.8 cy=596.6 r=3 /><circle class=n cx=375.7 cy=599.1 r=3 /><circle class=n cx=356.6 cy=598.3 r=3 /><circle class=n cx=365.3 cy=596.4 r=3 /><circle class=n cx=371.5 cy=594.2 r=3 /><circle class=n cx=376.1 cy=586.1 r=3 /><circle class=n cx=353.9 cy=594.8 r=3 /><circle class=n cx=351.8 cy=598.2 r=3 /><circle class=n cx=347.2 cy=585.9 r=3 /><circle class=n cx=376.7 cy=598.1 r=3 /><circle class=n cx=383.8 cy=576.2 r=3 /><circle class=n cx=369.7 cy=600.5 r=3 /><circle class=n cx=369.9 cy=596.0 r=3 /><circle class=n cx=347.7 cy=576.2 r=3 /><circle class=n cx=377.5 cy=598.4 r=3 /><circle class=n cx=385.9 cy=579.3 r=3 /><circle class=n cx=379.7 cy=593.6 r=3 /><circle class=n cx=377.2 cy=586.8 r=3 /><circle class=n cx=355.3 cy=598.1 r=3 /><circle class=n cx=381.6 cy=588.8 r=3 /><circle class=n cx=374.4 cy=597.1 r=3 /><circle class=n cx=384.9 cy=576.8 r=3 /><circle class=n cx=361.6 cy=600.2 r=3 /><circle class=n cx=372.1 cy=586.9 r=3 /><circle class=n cx=353.7 cy=599.4 r=3 /><circle class=n cx=359.3 cy=591.3 r=3 /><circle class=n cx=343.2 cy=589.8 r=3 /><circle class=n cx=372.9 cy=587.6 r=3 /><circle class=n cx=392.5 cy=585.8 r=3 /><circle class=n cx=357.5 cy=590.6 r=3 /><circle class=n cx=374.9 cy=598.7 r=3 /><circle class=n cx=349.6 cy=596.1 r=3 /><circle class=n cx=357.8 cy=595.9 r=3 /><circle class=n cx=381.7 cy=592.5 r=3 /><circle class=n cx=357.7 cy=598.5 r=3 /><circle class=n cx=341.0 cy=586.4 r=3 /><circle class=n cx=359.4 cy=598.7 r=3 /><circle class=n cx=348.9 cy=597.9 r=3 /><circle class=n cx=361.2 cy=599.7 r=3 /><circle class=n cx=346.5 cy=579.5 r=3 /><circle class=n cx=339.6 cy=591.4 r=3 /><circle class=n cx=369.8 cy=599.4 r=3 /><circle class=n cx=351.2 cy=582.1 r=3 /><circle class=n cx=342.2 cy=590.2 r=3 /><circle class=n cx=383.9 cy=597.5 r=3 /><circle class=n cx=373.9 cy=594.0 r=3 /><circle class=n cx=373.4 cy=597.2 r=3 /><circle class=n cx=369.8 cy=598.1 r=3 /><circle class=n cx=373.1 cy=594.7 r=3 /><circle class=n cx=370.5 cy=599.4 r=3 /><circle class=n cx=351.6 cy=595.4 r=3 /><circle class=n cx=365.4 cy=597.4 r=3 /><circle class=n cx=365.5 cy=599.4 r=3 /><circle class=n cx=376.2 cy=594.3 r=3 /><circle class=n cx=390.1 cy=580.3 r=3 /><circle class=n cx=362.2 cy=597.9 r=3 /><circle class=n cx=384.2 cy=583.0 r=3 /><circle class=n cx=390.2 cy=592.0 r=3 /><circle class=n cx=356.8 cy=586.4 r=3 /><circle class=n cx=342.4 cy=585.6 r=3 /><circle class=n cx=361.4 cy=590.8 r=3 /><circle class=n cx=341.6 cy=588.1 r=3 /><circle class=n cx=345.2 cy=588.4 r=3 /><circle class=n cx=374.3 cy=599.8 r=3 /><circle class=n cx=360.9 cy=592.4 r=3 /><circle class=n cx=366.9 cy=597.8 r=3 /><circle class=n cx=373.0 cy=597.2 r=3 /><circle class=n cx=349.5 cy=591.1 r=3 /><circle class=n cx=349.1 cy=593.2 r=3 /><circle class=n cx=363.7 cy=598.2 r=3 /><circle class=n cx=353.7 cy=580.7 r=3 /><circle class=n cx=384.8 cy=598.0 r=3 /><circle class=n cx=384.7 cy=595.4 r=3 /><circle class=n cx=384.3 cy=590.1 r=3 /><circle class=n cx=356.2 cy=593.7 r=3 /><circle class=n cx=357.9 cy=584.7 r=3 /><circle class=n cx=382.8 cy=587.8 r=3 /><circle class=n cx=376.4 cy=598.7 r=3 /><circle class=n cx=347.3 cy=588.7 r=3 /><circle class=n cx=372.8 cy=592.8 r=3 /><circle class=n cx=343.4 cy=589.0 r=3 /><circle class=n cx=365.1 cy=599.8 r=3 /><circle class=n cx=363.0 cy=599.2 r=3 /><circle class=n cx=341.6 cy=588.9 r=3 /><circle class=n cx=367.2 cy=599.5 r=3 /><circle class=n cx=389.9 cy=580.0 r=3 /><circle class=n cx=388.5 cy=590.3 r=3 /><circle class=n cx=378.0 cy=598.7 r=3 /><circle class=n cx=372.4 cy=595.8 r=3 /><circle class=n cx=391.5 cy=587.6 r=3 /><circle class=n cx=360.5 cy=595.6 r=3 /><circle class=n cx=392.8 cy=578.2 r=3 /><circle class=n cx=356.7 cy=593.2 r=3 /><circle class=n cx=382.1 cy=595.2 r=3 /><circle class=n cx=347.8 cy=587.3 r=3 /><circle class=n cx=379.4 cy=593.4 r=3 /><circle class=n cx=387.4 cy=578.4 r=3 /><circle class=n cx=361.6 cy=600.5 r=3 /><circle class=n cx=393.5 cy=594.0 r=3 /><circle class=n cx=358.9 cy=586.9 r=3 /><circle class=n cx=353.8 cy=598.0 r=3 /><circle class=n cx=352.8 cy=595.7 r=3 /><circle class=n cx=349.7 cy=582.0 r=3 /><circle class=n cx=367.9 cy=596.8 r=3 /><circle class=n cx=360.9 cy=598.7 r=3 /><circle class=n cx=373.0 cy=597.5 r=3 /><circle class=n cx=358.6 cy=592.8 r=3 /><circle class=n cx=354.5 cy=598.9 r=3 /><circle class=n cx=361.0 cy=598.3 r=3 /><circle class=n cx=347.5 cy=596.0 r=3 /><circle class=n cx=347.7 cy=596.0 r=3 /><circle class=n cx=377.9 cy=596.3 r=3 /><circle class=n cx=361.1 cy=600.5 r=3 /><circle class=n cx=350.1 cy=587.1 r=3 /><circle class=n cx=346.4 cy=583.6 r=3 /><circle class=n cx=385.5 cy=597.0 r=3 /><circle class=n cx=358.9 cy=588.7 r=3 /><circle class=n cx=390.2 cy=594.3 r=3 /><circle class=n cx=375.4 cy=592.6 r=3 /><circle class=n cx=370.0 cy=599.4 r=3 /><circle class=n cx=352.2 cy=596.2 r=3 /><circle class=n cx=358.9 cy=593.2 r=3 /><circle class=n cx=380.2 cy=594.5 r=3 /><circle class=n cx=347.4 cy=591.3 r=3 /><circle class=n cx=371.2 cy=599.8 r=3 /><circle class=n cx=384.5 cy=590.9 r=3 /><circle class=n cx=353.4 cy=595.0 r=3 /><circle class=n cx=357.1 cy=585.1 r=3 /><circle class=n cx=343.1 cy=580.6 r=3 /><circle class=n cx=359.6 cy=588.7 r=3 /><circle class=n cx=348.8 cy=582.0 r=3 /><circle class=n cx=383.7 cy=583.0 r=3 /><circle class=n cx=372.8 cy=598.8 r=3 /><circle class=n cx=350.6 cy=591.9 r=3 /><circle class=n cx=349.9 cy=589.2 r=3 /><circle class=n cx=392.0 cy=589.8 r=3 /><circle class=n cx=345.9 cy=594.3 r=3 /><circle class=n cx=374.6 cy=595.1 r=3 /><circle class=n cx=355.6 cy=592.8 r=3 /><circle class=n cx=376.3 cy=590.0 r=3 /><circle class=n cx=357.7 cy=599.0 r=3 /><circle class=n cx=354.8 cy=581.2 r=3 /><circle class=n cx=352.7 cy=596.4 r=3 /><circle class=n cx=351.9 cy=591.1 r=3 /><circle class=n cx=347.9 cy=597.0 r=3 /><circle class=n cx=356.8 cy=590.5 r=3 /><circle class=n cx=374.8 cy=599.4 r=3 /><circle class=n cx=341.7 cy=588.4 r=3 /><circle class=n cx=376.2 cy=597.2 r=3 /><circle class=n cx=388.8 cy=587.4 r=3 /><circle class=n cx=379.0 cy=596.9 r=3 /><circle class=n cx=361.9 cy=590.5 r=3 /><circle class=n cx=355.2 cy=588.0 r=3 /><circle class=n cx=354.8 cy=595.7 r=3 /><circle class=n cx=350.4 cy=593.9 r=3 /><circle class=n cx=335.7 cy=585.1 r=3 /><circle class=n cx=377.9 cy=598.3 r=3 /><circle class=n cx=381.6 cy=591.5 r=3 /><circle class=n cx=346.0 cy=591.8 r=3 /><circle class=n cx=352.5 cy=598.1 r=3 /><circle class=n cx=382.3 cy=597.2 r=3 /><circle class=n cx=388.1 cy=583.2 r=3 /><circle class=n cx=364.7 cy=599.2 r=3 /><circle class=n cx=356.1 cy=595.6 r=3 /><circle class=n cx=353.4 cy=588.8 r=3 /><circle class=n cx=372.1 cy=598.9 r=3 /><circle class=n cx=367.7 cy=600.3 r=3 /><circle class=n cx=357.6 cy=593.5 r=3 /><circle class=n cx=373.7 cy=600.0 r=3 /><circle class=n cx=365.5 cy=595.6 r=3 /><circle class=n cx=376.7 cy=593.3 r=3 /><circle class=n cx=342.8 cy=592.5 r=3 /><circle class=n cx=361.5 cy=595.8 r=3 /><circle class=n cx=356.0 cy=599.0 r=3 /><circle class=n cx=382.3 cy=590.7 r=3 /><circle class=n cx=391.2 cy=588.5 r=3 /><circle class=n cx=383.3 cy=582.4 r=3 /><circle class=n cx=393.5 cy=586.4 r=3 /><circle class=n cx=353.8 cy=598.6 r=3 /><circle class=n cx=351.7 cy=597.8 r=3 /><circle class=n cx=349.9 cy=589.9 r=3 /><circle class=n cx=374.5 cy=600.0 r=3 /><circle class=n cx=360.1 cy=593.1 r=3 /><circle class=n cx=360.9 cy=598.6 r=3 /><circle class=n cx=372.5 cy=598.0 r=3 /><circle class=n cx=393.4 cy=585.4 r=3 /><circle class=n cx=364.7 cy=599.1 r=3 /><circle class=n cx=356.5 cy=599.8 r=3 /><circle class=n cx=360.4 cy=585.6 r=3 /><circle class=n cx=382.9 cy=593.2 r=3 /><circle class=n cx=381.4 cy=580.0 r=3 /><circle class=n cx=393.1 cy=583.9 r=3 /><circle class=n cx=341.1 cy=591.6 r=3 /><circle class=n cx=358.6 cy=599.4 r=3 /><circle class=n cx=377.3 cy=595.3 r=3 /><circle class=n cx=339.8 cy=578.4 r=3 /><circle class=n cx=371.6 cy=599.5 r=3 /><circle class=n cx=346.0 cy=593.1 r=3 /><circle class=n cx=372.8 cy=596.6 r=3 /><circle class=n cx=336.0 cy=583.6 r=3 /><circle class=n cx=344.5 cy=594.0 r=3 /><circle class=n cx=392.1 cy=593.1 r=3 /><circle class=n cx=381.5 cy=586.9 r=3 /><circle class=n cx=385.0 cy=590.2 r=3 /><circle class=n cx=394.0 cy=592.9 r=3 /><circle class=n cx=361.2 cy=600.0 r=3 /><circle class=n cx=346.6 cy=594.2 r=3 /><circle class=n cx=352.6 cy=592.6 r=3 /><circle class=n cx=378.9 cy=594.7 r=3 /><circle class=n cx=370.7 cy=594.1 r=3 /><circle class=n cx=359.1 cy=599.1 r=3 /><circle class=n cx=361.5 cy=599.7 r=3 /><circle class=n cx=379.2 cy=581.2 r=3 /><circle class=n cx=362.7 cy=599.4 r=3 /><circle class=n cx=388.4 cy=591.3 r=3 /><circle class=n cx=364.6 cy=600.2 r=3 /><circle class=n cx=350.6 cy=578.1 r=3 /><circle class=n cx=354.9 cy=596.4 r=3 /><circle class=n cx=352.3 cy=595.5 r=3 /><circle class=n cx=367.7 cy=600.2 r=3 /><circle class=n cx=368.8 cy=599.0 r=3 /><circle class=n cx=396.2 cy=584.6 r=3 /><circle class=n cx=355.8 cy=599.0 r=3 /><circle class=n cx=362.6 cy=594.5 r=3 /><circle class=n cx=365.1 cy=600.3 r=3 /><circle class=n cx=358.0 cy=597.2 r=3 /><circle class=n cx=392.0 cy=589.6 r=3 /><circle class=n cx=357.2 cy=599.9 r=3 /><circle class=n cx=362.3 cy=598.4 r=3 /><circle class=n cx=344.2 cy=579.3 r=3 /><circle class=n cx=394.3 cy=584.1 r=3 /><circle class=n cx=358.8 cy=598.5 r=3 /><circle class=n cx=364.9 cy=599.7 r=3 /><circle class=n cx=379.2 cy=595.7 r=3 /><circle class=n cx=386.8 cy=595.4 r=3 /><circle class=n cx=388.2 cy=580.4 r=3 /><circle class=n cx=373.1 cy=599.4 r=3 /><circle class=n cx=364.8 cy=597.5 r=3 /><circle class=n cx=381.1 cy=597.9 r=3 /><circle class=n cx=363.6 cy=599.9 r=3 /><circle class=n cx=354.8 cy=590.5 r=3 /><circle class=n cx=343.8 cy=587.3 r=3 /><circle class=n cx=361.5 cy=593.6 r=3 /><circle class=n cx=387.7 cy=581.9 r=3 /><circle class=n cx=368.3 cy=598.6 r=3 /><circle class=n cx=362.6 cy=595.0 r=3 /><circle class=n cx=363.1 cy=598.5 r=3 /><circle class=n cx=360.0 cy=586.0 r=3 /><circle class=n cx=380.6 cy=597.6 r=3 /><circle class=n cx=368.0 cy=598.8 r=3 /><circle class=n cx=341.4 cy=591.7 r=3 /><circle class=n cx=385.2 cy=598.4 r=3 /><circle class=n cx=391.3 cy=584.5 r=3 /><circle class=n cx=372.3 cy=599.8 r=3 /><circle class=n cx=376.8 cy=596.6 r=3 /><circle class=n cx=356.9 cy=597.3 r=3 /><circle class=n cx=335.7 cy=581.1 r=3 /><circle class=n cx=375.8 cy=592.2 r=3 /><circle class=n cx=356.2 cy=598.2 r=3 /><circle class=n cx=356.5 cy=594.7 r=3 /><circle class=n cx=353.3 cy=583.4 r=3 /><circle class=n cx=380.6 cy=594.9 r=3 /><circle class=n cx=355.1 cy=591.8 r=3 /><circle class=n cx=347.1 cy=590.3 r=3 /><circle class=n cx=356.3 cy=591.8 r=3 /><circle class=n cx=375.6 cy=588.0 r=3 /><circle class=n cx=362.5 cy=600.4 r=3 /><circle class=n cx=350.9 cy=591.0 r=3 /><circle class=n cx=376.9 cy=598.8 r=3 /><circle class=n cx=376.1 cy=600.0 r=3 /><circle class=n cx=391.5 cy=595.2 r=3 /><circle class=n cx=370.3 cy=599.5 r=3 /><circle class=n cx=347.4 cy=592.9 r=3 /><circle class=n cx=353.1 cy=596.7 r=3 /><circle class=n cx=346.8 cy=597.2 r=3 /><circle class=n cx=347.8 cy=595.0 r=3 /><circle class=n cx=354.4 cy=597.5 r=3 /><circle class=n cx=359.2 cy=600.3 r=3 /><circle class=n cx=376.4 cy=597.4 r=3 /><circle class=n cx=387.1 cy=588.3 r=3 /><circle class=n cx=357.8 cy=600.0 r=3 /><circle class=n cx=351.0 cy=576.6 r=3 /><circle class=n cx=365.9 cy=598.7 r=3 /><circle class=n cx=347.9 cy=594.9 r=3 /><circle class=n cx=369.7 cy=598.8 r=3 /><circle class=n cx=359.0 cy=597.4 r=3 /><circle class=n cx=368.6 cy=599.6 r=3 /><circle class=n cx=378.4 cy=597.8 r=3 /><circle class=n cx=369.1 cy=597.9 r=3 /><circle class=n cx=381.7 cy=594.4 r=3 /><circle class=n cx=375.8 cy=600.1 r=3 /><circle class=n cx=360.3 cy=596.7 r=3 /><circle class=n cx=348.0 cy=590.0 r=3 /><circle class=n cx=378.5 cy=597.0 r=3 /><circle class=n cx=342.1 cy=585.6 r=3 /><circle class=n cx=377.4 cy=598.5 r=3 /><circle class=n cx=372.4 cy=592.5 r=3 /><circle class=n cx=373.7 cy=589.6 r=3 /><circle class=n cx=364.3 cy=595.8 r=3 /><circle class=n cx=363.9 cy=597.1 r=3 /><circle class=n cx=371.6 cy=597.0 r=3 /><circle class=n cx=374.9 cy=598.7 r=3 /><circle class=n cx=377.5 cy=599.2 r=3 /><circle class=n cx=384.2 cy=595.4 r=3 /><circle class=n cx=388.1 cy=588.2 r=3 /><circle class=n cx=358.1 cy=598.2 r=3 /><circle class=n cx=363.8 cy=598.6 r=3 /><circle class=n cx=368.2 cy=595.8 r=3 /><circle class=n cx=351.0 cy=592.8 r=3 /><circle class=n cx=346.6 cy=594.6 r=3 /><circle class=n cx=348.2 cy=582.9 r=3 /><circle class=n cx=356.2 cy=599.5 r=3 /><circle class=n cx=355.4 cy=597.1 r=3 /><circle class=n cx=375.3 cy=591.2 r=3 /><circle class=n cx=358.4 cy=599.9 r=3 /><circle class=n cx=351.5 cy=577.3 r=3 /><circle class=n cx=362.8 cy=600.5 r=3 /><circle class=n cx=387.6 cy=588.9 r=3 /><circle class=n cx=376.4 cy=579.7 r=3 /><circle class=n cx=384.6 cy=593.5 r=3 /><circle class=n cx=389.7 cy=587.6 r=3 /><circle class=n cx=358.3 cy=588.3 r=3 /><circle class=n cx=394.5 cy=589.4 r=3 /><circle class=n cx=393.8 cy=592.2 r=3 /><circle class=n cx=356.5 cy=597.2 r=3 /><circle class=n cx=339.8 cy=579.7 r=3 /><circle class=n cx=365.6 cy=599.6 r=3 /><circle class=n cx=369.7 cy=599.8 r=3 /><circle class=n cx=380.6 cy=598.1 r=3 /><circle class=n cx=384.2 cy=576.6 r=3 /><circle class=n cx=395.8 cy=588.7 r=3 /><circle class=n cx=352.5 cy=596.5 r=3 /><circle class=n cx=391.0 cy=584.8 r=3 /><circle class=n cx=392.6 cy=585.2 r=3 /><circle class=n cx=349.3 cy=596.4 r=3 /><circle class=n cx=372.5 cy=596.0 r=3 /><circle class=n cx=377.0 cy=598.3 r=3 /><circle class=n cx=387.3 cy=592.3 r=3 /><circle class=n cx=355.2 cy=584.4 r=3 /><circle class=n cx=392.4 cy=589.6 r=3 /><circle class=n cx=393.8 cy=593.4 r=3 /><circle class=n cx=388.9 cy=593.5 r=3 /><circle class=n cx=368.5 cy=600.4 r=3 /><circle class=n cx=384.1 cy=593.5 r=3 /><circle class=n cx=365.6 cy=599.5 r=3 /><circle class=n cx=357.0 cy=598.6 r=3 /><circle class=n cx=363.2 cy=597.5 r=3 /><circle class=n cx=373.5 cy=597.3 r=3 /><circle class=n cx=347.9 cy=596.3 r=3 /><circle class=n cx=353.0 cy=595.4 r=3 /><circle class=n cx=379.3 cy=592.6 r=3 /><circle class=n cx=368.8 cy=600.2 r=3 /><circle class=n cx=337.4 cy=582.2 r=3 /><circle class=n cx=399.7 cy=584.8 r=3 /><circle class=n cx=348.2 cy=584.8 r=3 /><circle class=n cx=377.6 cy=582.7 r=3 /><circle class=n cx=383.2 cy=584.1 r=3 /><circle class=n cx=379.1 cy=592.5 r=3 /><circle class=n cx=352.7 cy=591.5 r=3 /><circle class=n cx=383.6 cy=581.0 r=3 /><circle class=n cx=375.3 cy=596.1 r=3 /><circle class=n cx=380.7 cy=593.3 r=3 /><circle class=n cx=385.1 cy=585.4 r=3 /><circle class=n cx=371.3 cy=596.6 r=3 /><circle class=n cx=345.1 cy=583.9 r=3 /><circle class=n cx=374.6 cy=593.6 r=3 /><circle class=n cx=372.8 cy=597.7 r=3 /><circle class=n cx=351.2 cy=577.9 r=3 /><circle class=n cx=354.6 cy=592.5 r=3 /><circle class=n cx=377.4 cy=595.1 r=3 /><circle class=n cx=352.3 cy=597.8 r=3 /><circle class=n cx=391.5 cy=591.9 r=3 /><circle class=n cx=367.1 cy=598.7 r=3 /><circle class=n cx=374.1 cy=599.2 r=3 /><circle class=n cx=354.4 cy=597.4 r=3 /><circle class=n cx=373.4 cy=599.0 r=3 /><circle class=n cx=386.9 cy=596.7 r=3 /><circle class=n cx=369.4 cy=599.2 r=3 /><circle class=n cx=355.3 cy=597.5 r=3 /><circle class=n cx=383.9 cy=595.6 r=3 /><circle class=n cx=371.6 cy=598.5 r=3 /><circle class=n cx=345.0 cy=588.2 r=3 /><circle class=n cx=338.9 cy=587.7 r=3 /><circle class=n cx=395.7 cy=592.6 r=3 /><circle class=n cx=378.3 cy=585.8 r=3 /><circle class=n cx=359.9 cy=596.3 r=3 /><circle class=n cx=384.2 cy=596.3 r=3 /><circle class=n cx=355.1 cy=596.6 r=3 /><circle class=n cx=348.7 cy=586.2 r=3 /><circle class=n cx=374.4 cy=597.9 r=3 /><circle class=n cx=371.7 cy=593.3 r=3 /><circle class=n cx=378.8 cy=599.8 r=3 /><circle class=n cx=388.1 cy=591.5 r=3 /><circle class=n cx=350.7 cy=576.8 r=3 /><circle class=n cx=353.2 cy=597.6 r=3 /><circle class=n cx=361.3 cy=594.5 r=3 /><circle class=n cx=378.0 cy=593.6 r=3 /><circle class=n cx=358.1 cy=588.1 r=3 /><circle class=n cx=357.4 cy=593.8 r=3 /><circle class=n cx=362.1 cy=598.1 r=3 /><circle class=n cx=368.2 cy=600.3 r=3 /><circle class=n cx=379.0 cy=598.3 r=3 /><circle class=n cx=352.7 cy=580.2 r=3 /><circle class=n cx=388.6 cy=594.9 r=3 /><circle class=n cx=371.8 cy=600.2 r=3 /><circle class=n cx=365.5 cy=598.3 r=3 /><circle class=n cx=371.2 cy=590.6 r=3 /><circle class=n cx=379.7 cy=596.8 r=3 /><circle class=n cx=344.3 cy=591.3 r=3 /><circle class=n cx=364.0 cy=600.1 r=3 /><circle class=n cx=365.2 cy=597.7 r=3 /><circle class=n cx=357.2 cy=598.9 r=3 /><circle class=n cx=358.6 cy=590.7 r=3 /><circle class=n cx=341.1 cy=581.8 r=3 /><circle class=n cx=349.5 cy=590.3 r=3 /><circle class=n cx=359.1 cy=593.4 r=3 /><circle class=n cx=357.5 cy=589.2 r=3 /><circle class=n cx=358.5 cy=598.3 r=3 /><circle class=n cx=385.4 cy=591.9 r=3 /><circle class=n cx=351.3 cy=596.1 r=3 /><circle class=n cx=361.9 cy=599.3 r=3 /><circle class=n cx=359.3 cy=599.4 r=3 /><circle class=n cx=341.1 cy=587.7 r=3 /><circle class=n cx=376.3 cy=579.3 r=3 /><circle class=n cx=340.1 cy=578.2 r=3 /><circle class=n cx=347.8 cy=590.6 r=3 /><circle class=n cx=371.8 cy=594.6 r=3 /><circle class=n cx=397.6 cy=584.3 r=3 /><circle class=n cx=381.0 cy=581.5 r=3 /><circle class=n cx=354.2 cy=588.1 r=3 /><circle class=n cx=372.0 cy=600.1 r=3 /><circle class=n cx=378.4 cy=595.5 r=3 /><circle class=n cx=368.1 cy=598.4 r=3 /><circle class=n cx=387.2 cy=596.3 r=3 /><circle class=n cx=357.5 cy=595.9 r=3 /><circle class=n cx=379.4 cy=593.5 r=3 /><circle class=n cx=394.9 cy=581.8 r=3 /><circle class=n cx=362.5 cy=594.1 r=3 /><circle class=n cx=359.6 cy=599.2 r=3 /><circle class=n cx=388.9 cy=583.6 r=3 /><circle class=n cx=357.1 cy=595.2 r=3 /><circle class=n cx=375.5 cy=596.9 r=3 /><circle class=n cx=362.8 cy=595.4 r=3 /><circle class=n cx=352.2 cy=596.9 r=3 /><circle class=n cx=336.6 cy=583.7 r=3 /><circle class=n cx=372.0 cy=600.4 r=3 /><circle class=n cx=370.5 cy=600.4 r=3 /><circle class=n cx=366.2 cy=599.7 r=3 /><circle class=n cx=361.8 cy=599.0 r=3 /><circle class=n cx=354.8 cy=598.3 r=3 /><circle class=n cx=341.3 cy=583.5 r=3 /><circle class=n cx=382.3 cy=592.6 r=3 /><circle class=n cx=353.1 cy=585.6 r=3 /><circle class=n cx=367.2 cy=600.6 r=3 /><circle class=n cx=355.5 cy=583.0 r=3 /><circle class=n cx=359.7 cy=597.6 r=3 /><circle class=n cx=373.0 cy=598.8 r=3 /><circle class=n cx=377.3 cy=590.0 r=3 /><circle class=n cx=372.1 cy=599.0 r=3 /><circle class=n cx=394.4 cy=586.7 r=3 /><circle class=n cx=390.9 cy=590.0 r=3 /><circle class=n cx=356.3 cy=588.7 r=3 /><circle class=n cx=377.5 cy=588.3 r=3 /><circle class=n cx=354.1 cy=599.2 r=3 /><circle class=n cx=368.9 cy=600.5 r=3 /><circle class=n cx=382.6 cy=595.3 r=3 /><circle class=n cx=373.8 cy=590.9 r=3 /><circle class=n cx=355.5 cy=594.6 r=3 /><circle class=n cx=350.3 cy=581.5 r=3 /><circle class=n cx=356.9 cy=587.3 r=3 /><circle class=n cx=391.6 cy=590.7 r=3 /><circle class=n cx=352.6 cy=592.5 r=3 /><circle class=n cx=368.7 cy=595.8 r=3 /><circle class=n cx=365.5 cy=599.3 r=3 /><circle class=n cx=354.6 cy=594.9 r=3 /><circle class=n cx=384.5 cy=578.5 r=3 /><circle class=n cx=344.1 cy=590.2 r=3 /><circle class=n cx=352.8 cy=599.4 r=3 /><circle class=n cx=367.3 cy=597.4 r=3 /><circle class=n cx=360.6 cy=593.3 r=3 /><circle class=n cx=358.5 cy=598.1 r=3 /><circle class=n cx=385.7 cy=577.2 r=3 /><circle class=n cx=355.2 cy=589.2 r=3 /><circle class=n cx=352.3 cy=595.0 r=3 /><circle class=n cx=361.5 cy=588.3 r=3 /><circle class=n cx=379.6 cy=586.3 r=3 /><circle class=n cx=357.4 cy=599.8 r=3 /><circle class=n cx=361.2 cy=597.0 r=3 /><circle class=n cx=373.3 cy=579.8 r=3 /><circle class=n cx=380.0 cy=599.4 r=3 /><circle class=n cx=364.9 cy=600.6 r=3 /><circle class=n cx=373.4 cy=594.9 r=3 /><circle class=n cx=350.1 cy=596.9 r=3 /><circle class=n cx=396.3 cy=585.6 r=3 /><circle class=n cx=334.6 cy=583.9 r=3 /><circle class=n cx=333.6 cy=581.4 r=3 /><circle class=n cx=399.3 cy=582.5 r=3 /><circle class=n cx=335.2 cy=584.0 r=3 /><circle class=n cx=332.6 cy=583.3 r=3 /><circle class=n cx=332.5 cy=580.6 r=3 /><circle class=n cx=398.3 cy=587.6 r=3 /><circle class=n cx=335.1 cy=582.1 r=3 /><circle class=n cx=391.6 cy=589.1 r=3 /><circle class=n cx=337.3 cy=587.9 r=3 /><circle class=n cx=336.9 cy=589.9 r=3 /><circle class=n cx=328.3 cy=580.1 r=3 /><circle class=n cx=336.9 cy=584.9 r=3 /><circle class=n cx=334.5 cy=588.9 r=3 /><circle class=n cx=335.1 cy=590.4 r=3 /><circle class=n cx=399.1 cy=585.7 r=3 /><circle class=n cx=398.4 cy=584.7 r=3 /><circle class=n cx=334.8 cy=577.6 r=3 /><circle class=n cx=402.2 cy=579.4 r=3 /><circle class=n cx=336.2 cy=581.9 r=3 /><circle class=n cx=337.5 cy=590.0 r=3 /><circle class=n cx=399.8 cy=589.2 r=3 /><circle class=n cx=393.1 cy=588.9 r=3 /><circle class=n cx=399.9 cy=579.9 r=3 /><circle class=n cx=330.8 cy=585.5 r=3 /><circle class=n cx=398.3 cy=580.7 r=3 /><circle class=n cx=393.8 cy=594.4 r=3 /><circle class=n cx=329.6 cy=580.5 r=3 /><circle class=n cx=336.3 cy=583.3 r=3 /><circle class=n cx=404.2 cy=578.4 r=3 /><circle class=n cx=335.4 cy=583.1 r=3 /><circle class=n cx=396.7 cy=583.1 r=3 /><circle class=n cx=399.1 cy=586.8 r=3 /><circle class=n cx=332.4 cy=584.4 r=3 /><circle class=n cx=329.5 cy=583.1 r=3 /><circle class=n cx=342.2 cy=592.3 r=3 /><circle class=n cx=400.2 cy=581.0 r=3 /><circle class=n cx=335.2 cy=578.7 r=3 /><circle class=n cx=332.2 cy=582.6 r=3 /><circle class=n cx=342.5 cy=591.6 r=3 /><circle class=n cx=403.2 cy=578.0 r=3 /><circle class=n cx=335.6 cy=587.9 r=3 /><circle class=n cx=402.9 cy=582.5 r=3 /><circle class=n cx=341.8 cy=591.7 r=3 /><circle class=n cx=395.6 cy=591.4 r=3 /><circle class=n cx=136.4 cy=576.6 r=3 /><circle class=n cx=595.1 cy=575.3 r=3 /><circle class=n cx=359.3 cy=543.9 r=3 /><circle class=n cx=358.5 cy=553.8 r=3 /><circle class=n cx=356.5 cy=560.5 r=3 /><circle class=n cx=376.9 cy=545.4 r=3 /><circle class=n cx=374.8 cy=549.5 r=3 /><circle class=n cx=373.8 cy=557.1 r=3 /><circle class=n cx=373.5 cy=569.0 r=3 /><circle class=n cx=372.0 cy=574.5 r=3 /><circle class=n cx=358.0 cy=570.0 r=3 /><circle class=n cx=404.0 cy=581.0 r=3 /><circle class=n cx=403.8 cy=592.1 r=3 /><circle class=n cx=319.0 cy=580.0 r=3 /><circle class=n cx=325.5 cy=585.0 r=3 /><circle class=n cx=321.5 cy=584.0 r=3 /><circle class=n cx=561.3 cy=582.3 r=3 /><circle class=n cx=557.8 cy=584.5 r=3 /><circle class=n cx=576.3 cy=577.9 r=3 /><circle class=n cx=574.1 cy=581.4 r=3 /><circle class=n cx=552.0 cy=586.5 r=3 /><circle class=n cx=548.0 cy=588.0 r=3 /><circle class=n cx=556.0 cy=585.2 r=3 /><circle class=n cx=563.0 cy=580.0 r=3 /><circle class=n cx=150.5 cy=580.0 r=3 /><circle class=n cx=154.0 cy=584.0 r=3 /><circle class=n cx=158.0 cy=587.5 r=3 /></g>
<g><line x1="354.1" y1="627.9" x2="354.1" y2="36.4" class="d"/><line x1="377.8" y1="627.9" x2="377.8" y2="36.4" class="d"/><line x1="57.6" y1="575.1" x2="675.0" y2="575.1" class="d"/></g>
<rect x="57.6" y="36.4" width="617.4" height="591.5" fill="none" stroke="#000" stroke-width="1.9"/>
<line x1="53.3" y1="601.0" x2="57.6" y2="601.0" class="t"/><text x="49.8" y="608.1" text-anchor="end" class="tk">0</text><line x1="53.3" y1="402.0" x2="57.6" y2="402.0" class="t"/><text x="49.8" y="409.1" text-anchor="end" class="tk">10</text><line x1="53.3" y1="203.0" x2="57.6" y2="203.0" class="t"/><text x="49.8" y="210.1" text-anchor="end" class="tk">20</text><line x1="127.9" y1="627.9" x2="127.9" y2="632.3" class="t"/><text x="127.9" y="649.6" text-anchor="middle" class="tk">-20</text><line x1="246.9" y1="627.9" x2="246.9" y2="632.3" class="t"/><text x="246.9" y="649.6" text-anchor="middle" class="tk">-10</text><line x1="365.9" y1="627.9" x2="365.9" y2="632.3" class="t"/><text x="365.9" y="649.6" text-anchor="middle" class="tk">0</text><line x1="484.9" y1="627.9" x2="484.9" y2="632.3" class="t"/><text x="484.9" y="649.6" text-anchor="middle" class="tk">10</text><line x1="604.0" y1="627.9" x2="604.0" y2="632.3" class="t"/><text x="604.0" y="649.6" text-anchor="middle" class="tk">20</text>
<text x="366" y="673.3" text-anchor="middle" class="ax">log2(fc)</text>
<text transform="translate(18.5,332) rotate(-90) scale(1.033,1)" text-anchor="middle" class="ax">-log10(PValue)</text>

<circle cx="710.6" cy="318.5" r="6.0" fill="#F7746B" fill-opacity="0.97" stroke="#F7746B" stroke-opacity="0.97" stroke-width="1"/>
<circle cx="710.6" cy="342.9" r="5.6" fill="#000" fill-opacity="0.2" stroke="#000" stroke-opacity="0.2" stroke-width="1.2"/>
<circle cx="710.6" cy="367.4" r="6.0" fill="#5D99F9" fill-opacity="0.97" stroke="#5D99F9" stroke-opacity="0.97" stroke-width="1"/>
<text transform="translate(725.2,324.6) scale(1.03,1)" class="lg">increase</text>
<text transform="translate(726.2,348.6) scale(1.03,1)" class="lg">nosig</text>
<text transform="translate(725.4,372.6) scale(1.03,1)" class="lg">decrease</text>

</svg>
</body></html>
